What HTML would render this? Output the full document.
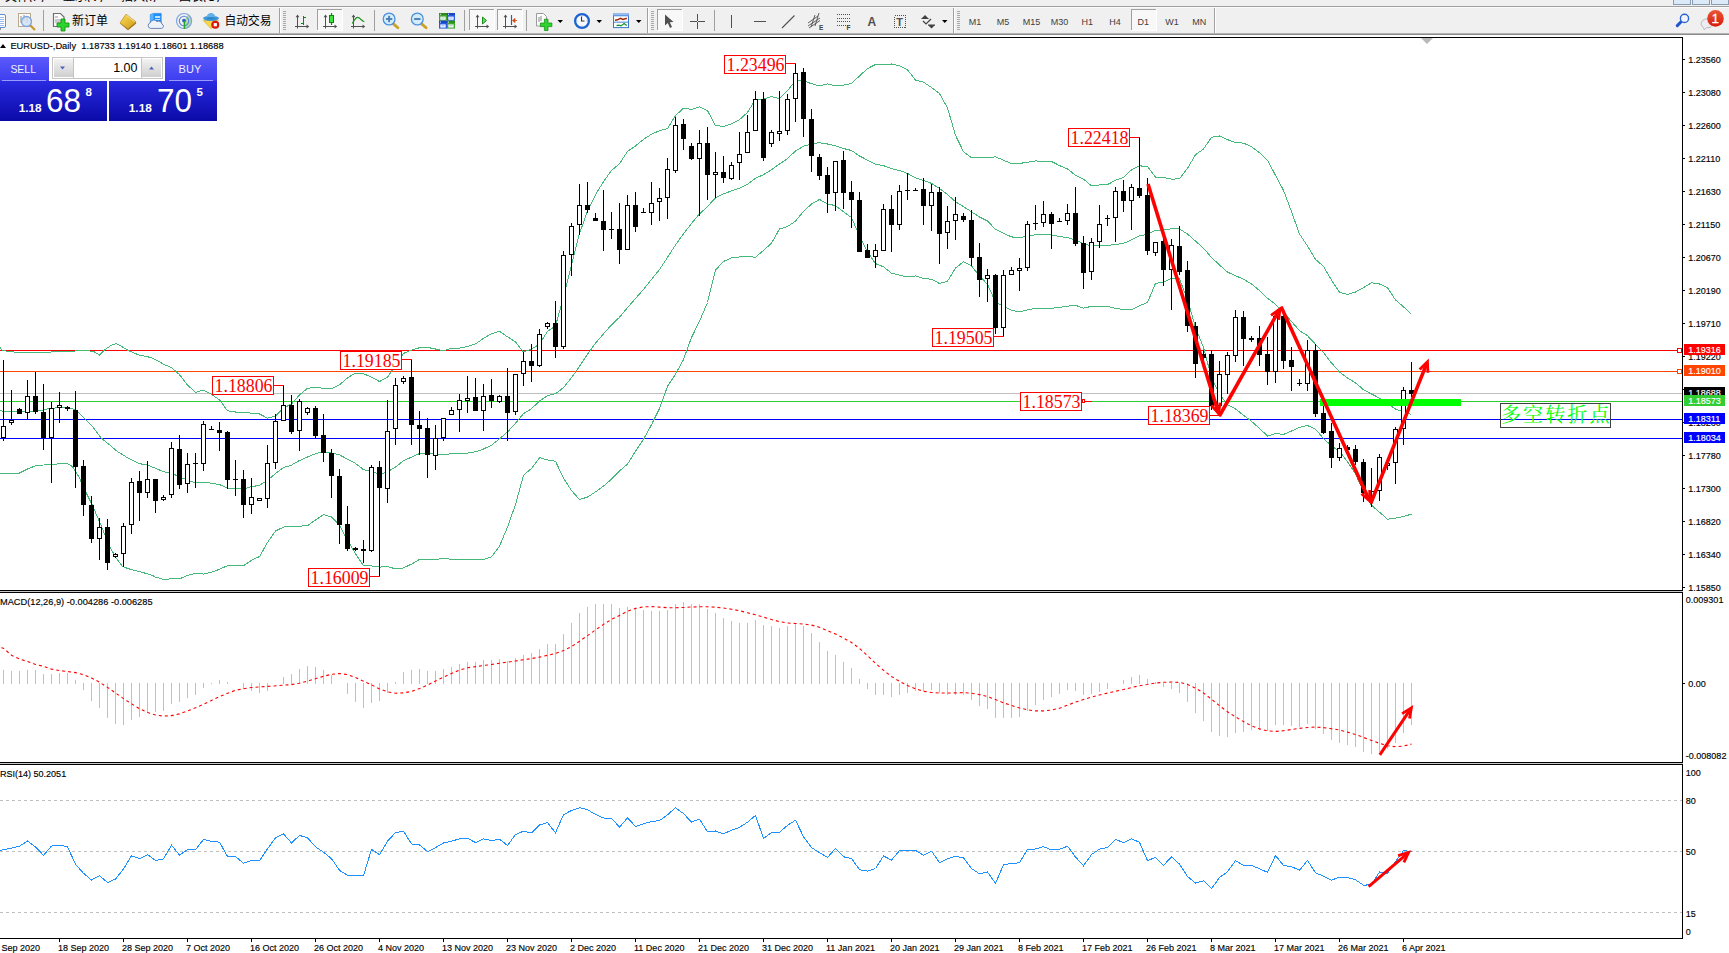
<!DOCTYPE html>
<html><head><meta charset="utf-8"><title>EURUSD Daily</title>
<style>html,body{margin:0;padding:0;background:#fff;overflow:hidden}body{width:1729px;height:953px;position:relative}</style>
</head><body>
<svg width="1729" height="953" viewBox="0 0 1729 953" style="position:absolute;left:0;top:0">
<defs><linearGradient id="gSellT" x1="0" y1="0" x2="0" y2="1"><stop offset="0" stop-color="#5a5afc"/><stop offset="1" stop-color="#3c3cee"/></linearGradient><linearGradient id="gSellB" x1="0" y1="0" x2="0" y2="1"><stop offset="0" stop-color="#2a2ae0"/><stop offset="1" stop-color="#0a0aa8"/></linearGradient><linearGradient id="gBtn" x1="0" y1="0" x2="0" y2="1"><stop offset="0" stop-color="#f2f2f2"/><stop offset="1" stop-color="#cfcfcf"/></linearGradient></defs>
<rect width="1729" height="953" fill="#fff"/>
<g id="toolbar">
<rect x="0" y="0" width="1729" height="35" fill="#f0f0f0"/>
<clipPath id="mclip"><rect x="0" y="0" width="1729" height="2"/></clipPath>
<g clip-path="url(#mclip)" font-family="'Liberation Sans','Noto Sans CJK SC',sans-serif" font-size="12" fill="#000">
<text x="5" y="0.9">文件(F)</text>
<text x="63" y="0.9">显示(V)</text>
<text x="121" y="0.9">插入(I)</text>
<text x="179" y="0.9">图表(C)</text>
</g>
<rect x="1673.5" y="-3.5" width="17" height="8" fill="#dce9f7" stroke="#8a9cb2"/>
<rect x="1692.5" y="-3.5" width="17" height="8" fill="#dce9f7" stroke="#8a9cb2"/>
<rect x="1711.5" y="-3.5" width="17" height="8" fill="#dce9f7" stroke="#8a9cb2"/>
<g shape-rendering="crispEdges">
<rect x="0" y="6" width="1729" height="1" fill="#a0a0a0"/><rect x="0" y="7" width="1729" height="1" fill="#fbfbfb"/>
<rect x="0" y="33" width="1729" height="1" fill="#b4b4b4"/><rect x="0" y="34" width="1729" height="1" fill="#8c8c8c"/><rect x="0" y="35" width="1729" height="2" fill="#fff"/>
<rect x="43" y="10" width="1" height="21" fill="#a0a0a0"/>
<rect x="374" y="10" width="1" height="21" fill="#a0a0a0"/>
<rect x="464" y="10" width="1" height="21" fill="#a0a0a0"/>
<rect x="526" y="10" width="1" height="21" fill="#a0a0a0"/>
<rect x="714" y="10" width="1" height="21" fill="#a0a0a0"/>
<rect x="279" y="8" width="1" height="25" fill="#a0a0a0"/><rect x="280" y="8" width="1" height="25" fill="#fff"/>
<rect x="647" y="8" width="1" height="25" fill="#a0a0a0"/><rect x="648" y="8" width="1" height="25" fill="#fff"/>
<rect x="953" y="8" width="1" height="25" fill="#a0a0a0"/><rect x="954" y="8" width="1" height="25" fill="#fff"/>
<rect x="1214" y="8" width="1" height="25" fill="#a0a0a0"/><rect x="1215" y="8" width="1" height="25" fill="#fff"/>
<rect x="283" y="11" width="3" height="1" fill="#a8a8a8"/>
<rect x="283" y="13" width="3" height="1" fill="#a8a8a8"/>
<rect x="283" y="15" width="3" height="1" fill="#a8a8a8"/>
<rect x="283" y="17" width="3" height="1" fill="#a8a8a8"/>
<rect x="283" y="19" width="3" height="1" fill="#a8a8a8"/>
<rect x="283" y="21" width="3" height="1" fill="#a8a8a8"/>
<rect x="283" y="23" width="3" height="1" fill="#a8a8a8"/>
<rect x="283" y="25" width="3" height="1" fill="#a8a8a8"/>
<rect x="283" y="27" width="3" height="1" fill="#a8a8a8"/>
<rect x="283" y="29" width="3" height="1" fill="#a8a8a8"/>
<rect x="651" y="11" width="3" height="1" fill="#a8a8a8"/>
<rect x="651" y="13" width="3" height="1" fill="#a8a8a8"/>
<rect x="651" y="15" width="3" height="1" fill="#a8a8a8"/>
<rect x="651" y="17" width="3" height="1" fill="#a8a8a8"/>
<rect x="651" y="19" width="3" height="1" fill="#a8a8a8"/>
<rect x="651" y="21" width="3" height="1" fill="#a8a8a8"/>
<rect x="651" y="23" width="3" height="1" fill="#a8a8a8"/>
<rect x="651" y="25" width="3" height="1" fill="#a8a8a8"/>
<rect x="651" y="27" width="3" height="1" fill="#a8a8a8"/>
<rect x="651" y="29" width="3" height="1" fill="#a8a8a8"/>
<rect x="957" y="11" width="3" height="1" fill="#a8a8a8"/>
<rect x="957" y="13" width="3" height="1" fill="#a8a8a8"/>
<rect x="957" y="15" width="3" height="1" fill="#a8a8a8"/>
<rect x="957" y="17" width="3" height="1" fill="#a8a8a8"/>
<rect x="957" y="19" width="3" height="1" fill="#a8a8a8"/>
<rect x="957" y="21" width="3" height="1" fill="#a8a8a8"/>
<rect x="957" y="23" width="3" height="1" fill="#a8a8a8"/>
<rect x="957" y="25" width="3" height="1" fill="#a8a8a8"/>
<rect x="957" y="27" width="3" height="1" fill="#a8a8a8"/>
<rect x="957" y="29" width="3" height="1" fill="#a8a8a8"/>
<rect x="317" y="9" width="26" height="22" fill="#f8f8f8"/><rect x="317" y="9" width="26" height="1" fill="#a0a0a0"/><rect x="317" y="9" width="1" height="22" fill="#a0a0a0"/><rect x="317" y="30" width="26" height="1" fill="#fff"/><rect x="342" y="9" width="1" height="22" fill="#fff"/>
<rect x="469" y="9" width="26" height="22" fill="#f8f8f8"/><rect x="469" y="9" width="26" height="1" fill="#a0a0a0"/><rect x="469" y="9" width="1" height="22" fill="#a0a0a0"/><rect x="469" y="30" width="26" height="1" fill="#fff"/><rect x="494" y="9" width="1" height="22" fill="#fff"/>
<rect x="497" y="9" width="26" height="22" fill="#f8f8f8"/><rect x="497" y="9" width="26" height="1" fill="#a0a0a0"/><rect x="497" y="9" width="1" height="22" fill="#a0a0a0"/><rect x="497" y="30" width="26" height="1" fill="#fff"/><rect x="522" y="9" width="1" height="22" fill="#fff"/>
<rect x="657" y="9" width="26" height="22" fill="#f8f8f8"/><rect x="657" y="9" width="26" height="1" fill="#a0a0a0"/><rect x="657" y="9" width="1" height="22" fill="#a0a0a0"/><rect x="657" y="30" width="26" height="1" fill="#fff"/><rect x="682" y="9" width="1" height="22" fill="#fff"/>
<rect x="1131" y="9" width="26" height="22" fill="#f8f8f8"/><rect x="1131" y="9" width="26" height="1" fill="#a0a0a0"/><rect x="1131" y="9" width="1" height="22" fill="#a0a0a0"/><rect x="1131" y="30" width="26" height="1" fill="#fff"/><rect x="1156" y="9" width="1" height="22" fill="#fff"/>
</g>
<rect x="-4" y="14.5" width="9.5" height="13" rx="1.5" fill="#fff" stroke="#5b8fd6"/>
<rect x="0" y="17" width="4" height="1" fill="#9dbdf0"/>
<rect x="0" y="19" width="4" height="1" fill="#9dbdf0"/>
<rect x="0" y="21" width="4" height="1" fill="#9dbdf0"/>
<rect x="0" y="23" width="4" height="1" fill="#9dbdf0"/>
<rect x="0" y="25" width="4" height="1" fill="#9dbdf0"/>
<path d="M0 28 l0 2 l-2 0" stroke="#333" fill="none"/>
<rect x="18.5" y="13.5" width="12" height="13" fill="#fdfdfd" stroke="#b9a98c"/>
<path d="M21 16v7M24 15v6M27 16v7" stroke="#888" fill="none"/>
<line x1="30" y1="25" x2="35" y2="30" stroke="#c8962a" stroke-width="2.2"/>
<circle cx="26.5" cy="21.5" r="5" fill="#cfe0f5" fill-opacity="0.8" stroke="#7fa8de" stroke-width="1.3"/>
<path d="M53.5 13.5h7l3.5 3.5v9.5h-10.5z" fill="#fcfcfc" stroke="#707070" stroke-width="1.2"/>
<path d="M55 17h3M55 20h6M55 22h6" stroke="#999" fill="none"/>
<path d="M61 19h4v4h4v4h-4v4h-4v-4h-4v-4h4z" fill="#2ed42e" stroke="#0a8a0a" stroke-width="0.8"/>
<text x="72" y="24.5" font-family="'Liberation Sans','Noto Sans CJK SC',sans-serif" font-size="12" fill="#000" textLength="36" lengthAdjust="spacingAndGlyphs">新订单</text>
<linearGradient id="gGold" x1="0" y1="0" x2="1" y2="1"><stop offset="0" stop-color="#fbe060"/><stop offset="1" stop-color="#cf9612"/></linearGradient>
<path d="M120 23.6L128 30.2L136.2 23.4L136 22L128 28.7L120 22.9z" fill="#9a6a10"/><path d="M126 14.2L136 21.9L128 28.7L120 22.9z" fill="url(#gGold)" stroke="#b8841a" stroke-width="0.7"/><path d="M126.3 15.2L134.8 21.8" stroke="#fdf0a0" stroke-width="0.8" fill="none"/>
<path d="M150.3 14.6l3.2-1.2h7.7v9.6h-10.9z" fill="#2090f8" stroke="#1878e0" stroke-width="0.6"/><path d="M150.3 14.6l3.2-1.2v9.6h-3.2z" fill="#58b4ff"/><rect x="155" y="16.2" width="5.2" height="1.6" fill="#e8f4ff"/><rect x="155" y="19" width="5.2" height="1" fill="#bcdcff"/>
<path d="M150.5 28.4a2.9 2.9 0 0 1 -0.3 -5.6a3.9 3.9 0 0 1 6.8 -1.3a3.4 3.4 0 0 1 4.9 2.5a2.3 2.3 0 0 1 -0.3 4.4z" fill="#eef3fa" stroke="#5a78b4" stroke-width="0.9"/>
<path d="M184 21L184 29.1A8.1 8.1 0 0 0 188.6 14.3z" fill="#4caf50" fill-opacity="0.38"/>
<circle cx="184" cy="21" r="7.5" fill="none" stroke="#7aa2e2" stroke-width="1.1"/><circle cx="184" cy="21" r="4.7" fill="none" stroke="#5d8ad8" stroke-width="1.1"/><circle cx="184" cy="20.6" r="1.9" fill="#2c5fd0"/>
<path d="M184.4 21v7.9" fill="none" stroke="#22a822" stroke-width="1.5"/>
<path d="M203.3 20.6L218.2 20.3L211.1 28.7z" fill="#f6d848" stroke="#cfa51c" stroke-width="0.6"/>
<ellipse cx="211" cy="18.3" rx="7.9" ry="2.6" fill="#3c98d8"/><path d="M206.4 18a4.6 4.9 0 0 1 9.2 0z" fill="#62b0e8"/><ellipse cx="211" cy="18.2" rx="4.6" ry="1.2" fill="#2f86c8"/>
<circle cx="215.3" cy="24.7" r="4" fill="#d81808"/><rect x="213.7" y="23.1" width="3.2" height="3.2" fill="#fff"/>
<text x="224.5" y="24.5" font-family="'Liberation Sans','Noto Sans CJK SC',sans-serif" font-size="12" fill="#000" textLength="47" lengthAdjust="spacingAndGlyphs">自动交易</text>
<path d="M297.5 15.5v13M295 26.5h13" stroke="#505050" fill="none"/><path d="M297.5 14.6l-1.9 2.6h3.8zM309.2 26.5l-2.6-1.9v3.8z" fill="#505050"/>
<g shape-rendering="crispEdges" fill="#0a8a0a"><rect x="303" y="16" width="1.4" height="8.6"/><rect x="303" y="17" width="3.4" height="1.2"/><rect x="300.6" y="23" width="3" height="1.2"/></g>
<path d="M325.5 15.5v13M323 26.5h13" stroke="#505050" fill="none"/><path d="M325.5 14.6l-1.9 2.6h3.8zM337.2 26.5l-2.6-1.9v3.8z" fill="#505050"/>
<path d="M331.5 13v12" stroke="#0a8a0a" stroke-width="1.2"/><rect x="329.5" y="15.5" width="4" height="7" fill="#3fe03f" stroke="#0a8a0a"/>
<path d="M353.5 15.5v13M351 26.5h13" stroke="#505050" fill="none"/><path d="M353.5 14.6l-1.9 2.6h3.8zM365.2 26.5l-2.6-1.9v3.8z" fill="#505050"/>
<path d="M352.3 23.6c3-6 5-7.2 7-5.6s3 3 5 3.8" stroke="#1a8f1a" stroke-width="1.2" fill="none"/>
<line x1="393.1" y1="23.6" x2="397.9" y2="27.8" stroke="#c9a227" stroke-width="2.8" stroke-linecap="round"/>
<circle cx="389.1" cy="19" r="5.9" fill="#d4ecf8" stroke="#4a90e0" stroke-width="1.3"/>
<path d="M385.9 19h6.4" stroke="#4a80b4" stroke-width="1.9"/>
<path d="M389.1 15.8v6.4" stroke="#4a80b4" stroke-width="1.9"/>
<line x1="421.3" y1="23.6" x2="426.1" y2="27.8" stroke="#c9a227" stroke-width="2.8" stroke-linecap="round"/>
<circle cx="417.3" cy="19" r="5.9" fill="#d4ecf8" stroke="#4a90e0" stroke-width="1.3"/>
<path d="M414.1 19h6.4" stroke="#4a80b4" stroke-width="1.9"/>
<rect x="439" y="13" width="8" height="7.8" fill="#3fa52c"/><rect x="439" y="13" width="8" height="2" fill="#2f8a1e"/><rect x="440.3" y="16.6" width="5.4" height="3.2" fill="#f4f6ff"/><rect x="441.5" y="17.5" width="3" height="0.9" fill="#3fa52c" fill-opacity="0.45"/><rect x="440" y="13.8" width="1" height="1" fill="#eef"/>
<rect x="447" y="13" width="8" height="7.8" fill="#2a5ce0"/><rect x="447" y="13" width="8" height="2" fill="#1a44c0"/><rect x="448.3" y="16.6" width="5.4" height="3.2" fill="#f4f6ff"/><rect x="449.5" y="17.5" width="3" height="0.9" fill="#2a5ce0" fill-opacity="0.45"/><rect x="448" y="13.8" width="1" height="1" fill="#eef"/>
<rect x="439" y="20.8" width="8" height="7.8" fill="#2a5ce0"/><rect x="439" y="20.8" width="8" height="2" fill="#1a44c0"/><rect x="440.3" y="24.400000000000002" width="5.4" height="3.2" fill="#f4f6ff"/><rect x="441.5" y="25.3" width="3" height="0.9" fill="#2a5ce0" fill-opacity="0.45"/><rect x="440" y="21.6" width="1" height="1" fill="#eef"/>
<rect x="447" y="20.8" width="8" height="7.8" fill="#3fa52c"/><rect x="447" y="20.8" width="8" height="2" fill="#2f8a1e"/><rect x="448.3" y="24.400000000000002" width="5.4" height="3.2" fill="#f4f6ff"/><rect x="449.5" y="25.3" width="3" height="0.9" fill="#3fa52c" fill-opacity="0.45"/><rect x="448" y="21.6" width="1" height="1" fill="#eef"/>
<path d="M477.5 15.5v13M475 26.5h13" stroke="#505050" fill="none"/><path d="M477.5 14.6l-1.9 2.6h3.8zM489.2 26.5l-2.6-1.9v3.8z" fill="#505050"/>
<path d="M482.5 17l0 7 4-3.5z" fill="#6fd46f" stroke="#1a8f1a"/>
<path d="M505.5 15.5v13M503 26.5h13" stroke="#505050" fill="none"/><path d="M505.5 14.6l-1.9 2.6h3.8zM517.2 26.5l-2.6-1.9v3.8z" fill="#505050"/>
<path d="M511.5 15v10" stroke="#1e68b8" stroke-width="1.2"/><path d="M517 20.5h-4M515 18.5l-2.5 2 2.5 2z" stroke="#d84a10" fill="#d84a10" stroke-width="0.8"/>
<path d="M536.5 13.5h7l3 3v9.5h-10z" fill="#fcfcfc" stroke="#9a9a9a"/><path d="M539 17v5M541 16v5" stroke="#888"/>
<path d="M544.4 19.2h3.6v3.8h3.9v3.6h-3.9v3.9h-3.6v-3.9h-4v-3.6h4z" fill="#2ed42e" stroke="#0a8a0a" stroke-width="0.7"/>
<path d="M557.5 20h5.5l-2.75 3z" fill="#000"/>
<circle cx="582" cy="21" r="6.9" fill="#f6f9fd" stroke="#1c64d2" stroke-width="2.3"/><path d="M581.5 16.6v4.4h3" stroke="#333" stroke-width="1.1" fill="none"/><path d="M582 15.6v0.8M582 25.6v0.8M576.6 21h0.8M586.6 21h0.8" stroke="#889" stroke-width="0.8"/>
<path d="M596.5 20h5.5l-2.75 3z" fill="#000"/>
<rect x="613.5" y="14.2" width="15" height="13.4" fill="#fff" stroke="#3a78d0"/><rect x="613" y="13.7" width="16" height="2.6" fill="#5a94e4"/><rect x="613.6" y="14.2" width="14.8" height="0.9" fill="#a8c8f4"/><rect x="614" y="21.7" width="14" height="0.9" fill="#3a78d0"/>
<path d="M615 20.2L617.6 19.8L620.3 18.3L623 19.5L626.8 18.3" stroke="#a82408" stroke-width="1.5" fill="none"/><path d="M616.5 25.6L618.8 25.2L621 25.9L624.1 23.6L626.8 25.6" stroke="#12962a" stroke-width="1.3" fill="none"/>
<path d="M636 20h5.5l-2.75 3z" fill="#000"/>
<path d="M665 14.5l0 11 2.8-2.5 2.2 5 2-1-2.2-4.8 3.7-0.2z" fill="#505050"/>
<path d="M697.5 14v15M690 21.5h15" stroke="#505050" fill="none"/><rect x="697" y="21" width="1" height="1" fill="#f0f0f0"/>
<path d="M731.5 15v13" stroke="#505050"/><path d="M754 21.5h12" stroke="#505050"/>
<path d="M782 28l12.5-12.5" stroke="#505050" stroke-width="1.1"/>
<path d="M808 23l10-7M808 26l12-8M809 28l11-7.5M811 27l4-12M815 26l4-13" stroke="#505050" stroke-width="0.9" fill="none"/>
<text x="819" y="30" font-family="'Liberation Sans',sans-serif" font-size="6.5" font-weight="bold" fill="#404040">E</text>
<path d="M837 14.5h13" stroke="#505050" stroke-dasharray="1 1"/>
<path d="M837 18.5h13" stroke="#505050" stroke-dasharray="1 1"/>
<path d="M837 21.5h13" stroke="#505050" stroke-dasharray="1 1"/>
<path d="M837 25.5h13" stroke="#505050" stroke-dasharray="1 1"/>
<text x="846.5" y="30" font-family="'Liberation Sans',sans-serif" font-size="6.5" font-weight="bold" fill="#404040">F</text>
<text x="867.5" y="26" font-family="'Liberation Sans',sans-serif" font-size="12" font-weight="bold" fill="#505050">A</text>
<rect x="894.5" y="15.5" width="11" height="12" fill="none" stroke="#505050" stroke-dasharray="1 1" shape-rendering="crispEdges"/><text x="896.2" y="26" font-family="'Liberation Sans',sans-serif" font-size="11" font-weight="bold" fill="#505050">T</text>
<path d="M921.5 18.5l3.5-3.5 3.5 3.5z M928 25l3.5 3.5 3.5-3.5z" fill="#404040"/><path d="M923 21l3 3 5-5" stroke="#404040" fill="none" stroke-width="1.2"/><path d="M921.5 18.5h7M928 25h7" stroke="#404040"/>
<path d="M942 20h5.5l-2.75 3z" fill="#000"/>
<text x="974.9" y="25.2" text-anchor="middle" font-family="'Liberation Sans',sans-serif" font-size="9" fill="#404040">M1</text>
<text x="1002.9" y="25.2" text-anchor="middle" font-family="'Liberation Sans',sans-serif" font-size="9" fill="#404040">M5</text>
<text x="1031.4" y="25.2" text-anchor="middle" font-family="'Liberation Sans',sans-serif" font-size="9" fill="#404040">M15</text>
<text x="1059.6" y="25.2" text-anchor="middle" font-family="'Liberation Sans',sans-serif" font-size="9" fill="#404040">M30</text>
<text x="1087.3" y="25.2" text-anchor="middle" font-family="'Liberation Sans',sans-serif" font-size="9" fill="#404040">H1</text>
<text x="1114.9" y="25.2" text-anchor="middle" font-family="'Liberation Sans',sans-serif" font-size="9" fill="#404040">H4</text>
<text x="1143.3" y="25.2" text-anchor="middle" font-family="'Liberation Sans',sans-serif" font-size="9" fill="#404040">D1</text>
<text x="1172" y="25.2" text-anchor="middle" font-family="'Liberation Sans',sans-serif" font-size="9" fill="#404040">W1</text>
<text x="1199.2" y="25.2" text-anchor="middle" font-family="'Liberation Sans',sans-serif" font-size="9" fill="#404040">MN</text>
<line x1="1677.3" y1="25.6" x2="1681.6" y2="21.2" stroke="#2455cc" stroke-width="3" stroke-linecap="round"/><circle cx="1684.5" cy="18.4" r="4.1" fill="#f2f4fa" stroke="#2a62d6" stroke-width="1.4"/>
<path d="M1703.5 27.6a5.6 4.8 0 1 1 6.5 0l-3.5 0l-2.2 2.3z" fill="#ececf2" stroke="#b4b4b4" stroke-width="0.9"/>
<linearGradient id="gRed" x1="0" y1="0" x2="0" y2="1"><stop offset="0" stop-color="#ea5636"/><stop offset="1" stop-color="#d61c0c"/></linearGradient>
<circle cx="1715.5" cy="18.4" r="8.3" fill="url(#gRed)"/><text x="1715.3" y="22.9" text-anchor="middle" font-family="'Liberation Sans',sans-serif" font-size="12.8" fill="#fff" stroke="#fff" stroke-width="0.3">1</text><rect x="1712.2" y="22" width="5" height="0.9" fill="#fff"/>
</g>
<g shape-rendering="crispEdges">
<rect x="0" y="37" width="1683" height="1" fill="#000"/>
<rect x="1682" y="37" width="1" height="902" fill="#000"/>
<rect x="0" y="590" width="1683" height="1" fill="#000"/>
<rect x="0" y="592" width="1683" height="1" fill="#000"/>
<rect x="0" y="762" width="1683" height="1" fill="#000"/>
<rect x="0" y="764" width="1683" height="1" fill="#000"/>
<rect x="0" y="591" width="1683" height="1" fill="#c8c8c8"/>
<rect x="0" y="763" width="1683" height="1" fill="#c8c8c8"/>
<rect x="0" y="938" width="1683" height="1" fill="#000"/>
</g>
<g shape-rendering="crispEdges">
<rect x="0" y="350" width="1682" height="1" fill="#ff0000"/>
<rect x="0" y="371" width="1682" height="1" fill="#ff4500"/>
<rect x="0" y="393" width="1682" height="1" fill="#c0c0c0"/>
<rect x="0" y="401" width="1682" height="1" fill="#32cd32"/>
<rect x="0" y="419" width="1682" height="1" fill="#0000ff"/>
<rect x="0" y="438" width="1682" height="1" fill="#0000ff"/>
</g>
<g fill="none" stroke="#46b87a" stroke-width="1" shape-rendering="crispEdges">
<polyline points="0.0,347.7 2.7,350.5 16.4,352.4 40.9,352.4 68.2,351.3 87.3,350.5 94.1,351.8 99.5,355.1 105.0,349.6 111.8,345.0 115.9,343.6 120.0,345.5 128.2,350.5 139.1,355.1 150.0,357.3 155.5,359.5 163.5,364.2 171.5,367.6 179.5,374.7 187.5,385.0 195.5,392.4 203.5,390.1 211.5,394.4 219.5,399.9 227.5,410.7 235.5,412.0 243.5,412.0 251.5,413.3 259.5,414.0 267.5,418.1 275.5,416.2 283.5,408.1 291.5,404.0 299.5,394.9 307.5,388.2 315.5,387.5 323.5,388.3 331.5,388.8 339.5,384.8 347.5,377.9 355.5,373.1 363.5,373.7 371.5,377.2 379.5,381.5 387.5,377.2 395.5,365.3 403.5,353.4 411.5,350.1 419.5,347.7 427.5,347.4 435.5,349.0 443.5,350.7 451.5,348.2 459.5,348.1 467.5,346.5 475.5,343.9 483.5,338.4 491.5,333.6 499.5,331.4 507.5,336.8 515.5,341.8 523.5,352.2 531.5,348.9 539.5,344.3 547.5,331.3 555.5,326.0 563.5,297.0 571.5,264.8 579.5,233.4 587.5,211.2 595.5,194.7 603.5,181.6 611.5,170.4 619.5,163.8 627.5,151.4 635.5,145.9 643.5,139.4 651.5,134.2 659.5,130.7 667.5,128.5 675.5,115.6 683.5,108.2 691.5,109.4 699.5,106.7 707.5,110.6 715.5,125.6 723.5,126.4 731.5,123.9 739.5,119.7 747.5,112.4 755.5,99.5 763.5,99.0 771.5,96.5 779.5,98.7 787.5,90.6 795.5,80.6 803.5,80.9 811.5,83.7 819.5,85.9 827.5,83.9 835.5,85.9 843.5,85.2 851.5,83.5 859.5,75.9 867.5,68.6 875.5,64.5 883.5,64.3 891.5,64.0 899.5,65.7 907.5,69.8 915.5,80.0 923.5,82.1 931.5,87.5 939.5,93.5 947.5,108.0 955.5,135.3 963.5,151.7 971.5,157.6 979.5,157.9 987.5,157.8 995.5,156.8 1003.5,160.2 1011.5,163.7 1019.5,163.5 1027.5,162.2 1035.5,160.9 1043.5,161.6 1051.5,161.5 1059.5,165.6 1067.5,168.9 1075.5,175.3 1083.5,179.1 1091.5,185.9 1099.5,184.9 1107.5,184.6 1115.5,180.3 1123.5,177.4 1131.5,169.9 1139.5,165.8 1147.5,166.6 1155.5,177.2 1163.5,177.6 1171.5,179.2 1179.5,178.8 1187.5,168.4 1195.5,154.7 1203.5,149.0 1211.5,137.3 1219.5,136.0 1227.5,139.6 1235.5,142.6 1243.5,143.1 1251.5,146.7 1259.5,152.8 1267.5,160.2 1275.5,175.3 1283.5,190.4 1291.5,211.7 1299.5,234.1 1307.5,245.9 1315.5,259.4 1323.5,266.3 1331.5,280.2 1339.5,292.3 1347.5,294.5 1355.5,292.0 1363.5,287.7 1371.5,282.7 1379.5,284.0 1387.5,287.8 1395.5,299.9 1403.5,306.8 1411.5,314.5"/>
<polyline points="0.0,410.5 5.5,411.8 16.4,411.8 27.3,411.3 40.9,410.7 49.1,408.5 58.6,407.7 66.8,407.7 73.6,409.1 79.1,413.2 84.5,418.6 92.7,426.8 100.9,437.7 109.1,444.5 117.3,451.4 128.2,458.2 139.1,463.6 147.3,465.0 155.5,468.3 163.5,471.8 171.5,473.2 179.5,476.8 187.5,480.2 195.5,482.8 203.5,482.1 211.5,483.2 219.5,484.6 227.5,488.2 235.5,488.9 243.5,488.9 251.5,486.7 259.5,485.3 267.5,480.3 275.5,473.6 283.5,467.6 291.5,465.1 299.5,460.5 307.5,457.0 315.5,453.7 323.5,451.5 331.5,452.9 339.5,454.9 347.5,459.2 355.5,463.4 363.5,469.7 371.5,471.6 379.5,474.3 387.5,471.8 395.5,467.1 403.5,460.7 411.5,457.1 419.5,453.6 427.5,453.2 435.5,454.1 443.5,454.7 451.5,453.6 459.5,453.6 467.5,453.1 475.5,451.8 483.5,449.0 491.5,445.2 499.5,438.8 507.5,432.0 515.5,423.2 523.5,413.7 531.5,408.7 539.5,401.0 547.5,395.6 555.5,393.7 563.5,387.6 571.5,377.6 579.5,366.4 587.5,354.1 595.5,343.3 603.5,333.8 611.5,324.8 619.5,317.3 627.5,307.7 635.5,298.5 643.5,289.4 651.5,279.4 659.5,269.6 667.5,257.4 675.5,244.9 683.5,233.8 691.5,223.5 699.5,213.9 707.5,206.5 715.5,197.8 723.5,193.9 731.5,190.9 739.5,188.3 747.5,184.4 755.5,178.3 763.5,174.7 771.5,169.8 779.5,163.9 787.5,158.6 795.5,150.9 803.5,146.2 811.5,143.9 819.5,142.7 827.5,144.0 835.5,145.7 843.5,148.5 851.5,150.5 859.5,156.0 867.5,160.1 875.5,164.1 883.5,165.6 891.5,168.6 899.5,170.5 907.5,173.4 915.5,177.9 923.5,180.4 931.5,183.4 939.5,188.5 947.5,194.6 955.5,201.7 963.5,206.7 971.5,211.8 979.5,217.0 987.5,221.0 995.5,229.4 1003.5,233.4 1011.5,236.9 1019.5,237.8 1027.5,236.1 1035.5,234.7 1043.5,235.0 1051.5,234.9 1059.5,236.5 1067.5,237.6 1075.5,240.3 1083.5,243.6 1091.5,246.1 1099.5,245.6 1107.5,245.5 1115.5,244.4 1123.5,243.4 1131.5,239.9 1139.5,235.7 1147.5,234.5 1155.5,230.2 1163.5,230.0 1171.5,228.8 1179.5,228.9 1187.5,234.0 1195.5,241.1 1203.5,248.3 1211.5,257.4 1219.5,265.0 1227.5,272.1 1235.5,275.8 1243.5,279.1 1251.5,284.0 1259.5,290.5 1267.5,298.2 1275.5,304.4 1283.5,312.4 1291.5,321.4 1299.5,330.7 1307.5,335.7 1315.5,344.3 1323.5,352.4 1331.5,363.0 1339.5,371.9 1347.5,378.0 1355.5,382.9 1363.5,389.7 1371.5,394.0 1379.5,398.1 1387.5,403.5 1395.5,409.1 1403.5,411.6 1411.5,414.4"/>
<polyline points="0.0,473.2 10.9,474.0 19.1,473.2 27.3,469.1 35.5,465.8 43.6,465.0 54.5,464.2 66.8,463.1 72.3,466.4 79.1,477.3 84.5,489.5 92.7,505.9 100.9,525.0 109.1,545.5 115.9,557.7 122.7,566.7 130.9,569.5 141.8,572.2 152.7,575.5 155.5,577.1 163.5,579.4 171.5,578.8 179.5,578.8 187.5,575.5 195.5,573.3 203.5,574.1 211.5,572.1 219.5,569.3 227.5,565.6 235.5,565.8 243.5,565.8 251.5,560.2 259.5,556.6 267.5,542.5 275.5,531.0 283.5,527.1 291.5,526.2 299.5,526.1 307.5,525.8 315.5,519.9 323.5,514.7 331.5,517.0 339.5,525.1 347.5,540.4 355.5,553.8 363.5,565.8 371.5,565.9 379.5,567.1 387.5,566.5 395.5,568.9 403.5,567.9 411.5,564.1 419.5,559.5 427.5,559.1 435.5,559.2 443.5,558.8 451.5,559.1 459.5,559.1 467.5,559.6 475.5,559.7 483.5,559.5 491.5,556.9 499.5,546.1 507.5,527.1 515.5,504.6 523.5,475.3 531.5,468.4 539.5,457.7 547.5,459.9 555.5,461.3 563.5,478.1 571.5,490.5 579.5,499.5 587.5,497.1 595.5,491.9 603.5,486.1 611.5,479.2 619.5,470.9 627.5,464.1 635.5,451.2 643.5,439.4 651.5,424.7 659.5,408.4 667.5,386.3 675.5,374.3 683.5,359.5 691.5,337.5 699.5,321.2 707.5,302.5 715.5,270.0 723.5,261.5 731.5,257.9 739.5,256.9 747.5,256.5 755.5,257.2 763.5,250.4 771.5,243.2 779.5,229.0 787.5,226.5 795.5,221.1 803.5,211.4 811.5,204.0 819.5,199.5 827.5,204.0 835.5,205.6 843.5,211.7 851.5,217.6 859.5,236.0 867.5,251.6 875.5,263.6 883.5,266.8 891.5,273.2 899.5,275.2 907.5,277.0 915.5,275.9 923.5,278.6 931.5,279.2 939.5,283.5 947.5,281.2 955.5,268.1 963.5,261.7 971.5,265.9 979.5,276.0 987.5,284.3 995.5,302.0 1003.5,306.6 1011.5,310.2 1019.5,312.0 1027.5,309.9 1035.5,308.4 1043.5,308.4 1051.5,308.3 1059.5,307.4 1067.5,306.2 1075.5,305.3 1083.5,308.2 1091.5,306.3 1099.5,306.4 1107.5,306.4 1115.5,308.4 1123.5,309.4 1131.5,309.9 1139.5,305.6 1147.5,302.5 1155.5,283.3 1163.5,282.4 1171.5,278.3 1179.5,279.0 1187.5,299.6 1195.5,327.6 1203.5,347.6 1211.5,377.5 1219.5,394.1 1227.5,404.6 1235.5,409.0 1243.5,415.2 1251.5,421.4 1259.5,428.3 1267.5,436.1 1275.5,433.5 1283.5,434.4 1291.5,431.0 1299.5,427.4 1307.5,425.5 1315.5,429.2 1323.5,438.5 1331.5,445.9 1339.5,451.4 1347.5,461.6 1355.5,473.9 1363.5,491.7 1371.5,505.2 1379.5,512.2 1387.5,519.2 1395.5,518.2 1403.5,516.4 1411.5,514.2"/>
</g>
<g shape-rendering="crispEdges">
<rect x="3" y="360" width="1" height="81" fill="#000"/>
<rect x="1" y="426" width="5" height="12" fill="#000"/>
<rect x="2" y="427" width="3" height="10" fill="#fff"/>
<rect x="11" y="390" width="1" height="35" fill="#000"/>
<rect x="9" y="420" width="5" height="3" fill="#000"/>
<rect x="10" y="421" width="3" height="1" fill="#fff"/>
<rect x="19" y="408" width="1" height="6" fill="#000"/>
<rect x="17" y="409" width="5" height="5" fill="#000"/>
<rect x="27" y="380" width="1" height="39" fill="#000"/>
<rect x="25" y="396" width="5" height="17" fill="#000"/>
<rect x="26" y="397" width="3" height="15" fill="#fff"/>
<rect x="35" y="372" width="1" height="42" fill="#000"/>
<rect x="33" y="396" width="5" height="16" fill="#000"/>
<rect x="43" y="384" width="1" height="66" fill="#000"/>
<rect x="41" y="412" width="5" height="26" fill="#000"/>
<rect x="51" y="402" width="1" height="81" fill="#000"/>
<rect x="49" y="408" width="5" height="30" fill="#000"/>
<rect x="50" y="409" width="3" height="28" fill="#fff"/>
<rect x="59" y="392" width="1" height="31" fill="#000"/>
<rect x="57" y="405" width="5" height="3" fill="#000"/>
<rect x="58" y="406" width="3" height="1" fill="#fff"/>
<rect x="67" y="406" width="1" height="5" fill="#000"/>
<rect x="65" y="407" width="5" height="2" fill="#000"/>
<rect x="75" y="391" width="1" height="97" fill="#000"/>
<rect x="73" y="410" width="5" height="57" fill="#000"/>
<rect x="83" y="460" width="1" height="56" fill="#000"/>
<rect x="81" y="466" width="5" height="39" fill="#000"/>
<rect x="91" y="496" width="1" height="47" fill="#000"/>
<rect x="89" y="505" width="5" height="34" fill="#000"/>
<rect x="99" y="518" width="1" height="42" fill="#000"/>
<rect x="97" y="527" width="5" height="12" fill="#000"/>
<rect x="98" y="528" width="3" height="10" fill="#fff"/>
<rect x="107" y="519" width="1" height="51" fill="#000"/>
<rect x="105" y="527" width="5" height="36" fill="#000"/>
<rect x="115" y="553" width="1" height="5" fill="#000"/>
<rect x="113" y="554" width="5" height="3" fill="#000"/>
<rect x="114" y="555" width="3" height="1" fill="#fff"/>
<rect x="123" y="523" width="1" height="44" fill="#000"/>
<rect x="121" y="526" width="5" height="28" fill="#000"/>
<rect x="122" y="527" width="3" height="26" fill="#fff"/>
<rect x="131" y="478" width="1" height="56" fill="#000"/>
<rect x="129" y="482" width="5" height="43" fill="#000"/>
<rect x="130" y="483" width="3" height="41" fill="#fff"/>
<rect x="139" y="471" width="1" height="50" fill="#000"/>
<rect x="137" y="481" width="5" height="12" fill="#000"/>
<rect x="147" y="461" width="1" height="37" fill="#000"/>
<rect x="145" y="479" width="5" height="14" fill="#000"/>
<rect x="146" y="480" width="3" height="12" fill="#fff"/>
<rect x="155" y="479" width="1" height="34" fill="#000"/>
<rect x="153" y="479" width="5" height="22" fill="#000"/>
<rect x="163" y="495" width="1" height="6" fill="#000"/>
<rect x="161" y="497" width="5" height="3" fill="#000"/>
<rect x="162" y="498" width="3" height="1" fill="#fff"/>
<rect x="171" y="442" width="1" height="56" fill="#000"/>
<rect x="169" y="448" width="5" height="47" fill="#000"/>
<rect x="170" y="449" width="3" height="45" fill="#fff"/>
<rect x="179" y="435" width="1" height="54" fill="#000"/>
<rect x="177" y="449" width="5" height="36" fill="#000"/>
<rect x="187" y="453" width="1" height="40" fill="#000"/>
<rect x="185" y="464" width="5" height="20" fill="#000"/>
<rect x="186" y="465" width="3" height="18" fill="#fff"/>
<rect x="195" y="453" width="1" height="35" fill="#000"/>
<rect x="193" y="463" width="5" height="1" fill="#000"/>
<rect x="203" y="421" width="1" height="50" fill="#000"/>
<rect x="201" y="424" width="5" height="40" fill="#000"/>
<rect x="202" y="425" width="3" height="38" fill="#fff"/>
<rect x="211" y="426" width="1" height="4" fill="#000"/>
<rect x="209" y="429" width="5" height="1" fill="#000"/>
<rect x="219" y="422" width="1" height="29" fill="#000"/>
<rect x="217" y="430" width="5" height="3" fill="#000"/>
<rect x="227" y="431" width="1" height="58" fill="#000"/>
<rect x="225" y="432" width="5" height="48" fill="#000"/>
<rect x="235" y="460" width="1" height="36" fill="#000"/>
<rect x="233" y="479" width="5" height="1" fill="#000"/>
<rect x="243" y="470" width="1" height="48" fill="#000"/>
<rect x="241" y="479" width="5" height="26" fill="#000"/>
<rect x="251" y="478" width="1" height="36" fill="#000"/>
<rect x="249" y="497" width="5" height="8" fill="#000"/>
<rect x="250" y="498" width="3" height="6" fill="#fff"/>
<rect x="259" y="498" width="1" height="3" fill="#000"/>
<rect x="257" y="498" width="5" height="3" fill="#000"/>
<rect x="258" y="499" width="3" height="1" fill="#fff"/>
<rect x="267" y="445" width="1" height="63" fill="#000"/>
<rect x="265" y="463" width="5" height="36" fill="#000"/>
<rect x="266" y="464" width="3" height="34" fill="#fff"/>
<rect x="275" y="414" width="1" height="55" fill="#000"/>
<rect x="273" y="421" width="5" height="42" fill="#000"/>
<rect x="274" y="422" width="3" height="40" fill="#fff"/>
<rect x="283" y="385" width="1" height="36" fill="#000"/>
<rect x="281" y="405" width="5" height="16" fill="#000"/>
<rect x="282" y="406" width="3" height="14" fill="#fff"/>
<rect x="291" y="395" width="1" height="39" fill="#000"/>
<rect x="289" y="405" width="5" height="27" fill="#000"/>
<rect x="299" y="399" width="1" height="52" fill="#000"/>
<rect x="297" y="401" width="5" height="30" fill="#000"/>
<rect x="298" y="402" width="3" height="28" fill="#fff"/>
<rect x="307" y="407" width="1" height="8" fill="#000"/>
<rect x="305" y="408" width="5" height="5" fill="#000"/>
<rect x="306" y="409" width="3" height="3" fill="#fff"/>
<rect x="315" y="406" width="1" height="32" fill="#000"/>
<rect x="313" y="408" width="5" height="28" fill="#000"/>
<rect x="323" y="414" width="1" height="48" fill="#000"/>
<rect x="321" y="435" width="5" height="18" fill="#000"/>
<rect x="331" y="449" width="1" height="49" fill="#000"/>
<rect x="329" y="453" width="5" height="23" fill="#000"/>
<rect x="339" y="469" width="1" height="75" fill="#000"/>
<rect x="337" y="476" width="5" height="49" fill="#000"/>
<rect x="347" y="506" width="1" height="45" fill="#000"/>
<rect x="345" y="524" width="5" height="25" fill="#000"/>
<rect x="355" y="547" width="1" height="4" fill="#000"/>
<rect x="353" y="548" width="5" height="2" fill="#000"/>
<rect x="363" y="540" width="1" height="23" fill="#000"/>
<rect x="361" y="549" width="5" height="2" fill="#000"/>
<rect x="371" y="465" width="1" height="87" fill="#000"/>
<rect x="369" y="467" width="5" height="84" fill="#000"/>
<rect x="370" y="468" width="3" height="82" fill="#fff"/>
<rect x="379" y="461" width="1" height="116" fill="#000"/>
<rect x="377" y="467" width="5" height="21" fill="#000"/>
<rect x="387" y="400" width="1" height="103" fill="#000"/>
<rect x="385" y="431" width="5" height="58" fill="#000"/>
<rect x="386" y="432" width="3" height="56" fill="#fff"/>
<rect x="395" y="378" width="1" height="67" fill="#000"/>
<rect x="393" y="385" width="5" height="44" fill="#000"/>
<rect x="394" y="386" width="3" height="42" fill="#fff"/>
<rect x="403" y="376" width="1" height="8" fill="#000"/>
<rect x="401" y="378" width="5" height="4" fill="#000"/>
<rect x="402" y="379" width="3" height="2" fill="#fff"/>
<rect x="411" y="359" width="1" height="86" fill="#000"/>
<rect x="409" y="377" width="5" height="48" fill="#000"/>
<rect x="419" y="411" width="1" height="44" fill="#000"/>
<rect x="417" y="425" width="5" height="4" fill="#000"/>
<rect x="427" y="418" width="1" height="60" fill="#000"/>
<rect x="425" y="428" width="5" height="27" fill="#000"/>
<rect x="435" y="425" width="1" height="45" fill="#000"/>
<rect x="433" y="438" width="5" height="18" fill="#000"/>
<rect x="434" y="439" width="3" height="16" fill="#fff"/>
<rect x="443" y="418" width="1" height="23" fill="#000"/>
<rect x="441" y="418" width="5" height="20" fill="#000"/>
<rect x="442" y="419" width="3" height="18" fill="#fff"/>
<rect x="451" y="407" width="1" height="8" fill="#000"/>
<rect x="449" y="410" width="5" height="5" fill="#000"/>
<rect x="450" y="411" width="3" height="3" fill="#fff"/>
<rect x="459" y="394" width="1" height="38" fill="#000"/>
<rect x="457" y="400" width="5" height="10" fill="#000"/>
<rect x="458" y="401" width="3" height="8" fill="#fff"/>
<rect x="467" y="376" width="1" height="37" fill="#000"/>
<rect x="465" y="398" width="5" height="3" fill="#000"/>
<rect x="466" y="399" width="3" height="1" fill="#fff"/>
<rect x="475" y="378" width="1" height="33" fill="#000"/>
<rect x="473" y="397" width="5" height="14" fill="#000"/>
<rect x="483" y="384" width="1" height="47" fill="#000"/>
<rect x="481" y="396" width="5" height="15" fill="#000"/>
<rect x="482" y="397" width="3" height="13" fill="#fff"/>
<rect x="491" y="379" width="1" height="29" fill="#000"/>
<rect x="489" y="395" width="5" height="6" fill="#000"/>
<rect x="499" y="395" width="1" height="8" fill="#000"/>
<rect x="497" y="396" width="5" height="6" fill="#000"/>
<rect x="498" y="397" width="3" height="4" fill="#fff"/>
<rect x="507" y="368" width="1" height="73" fill="#000"/>
<rect x="505" y="396" width="5" height="17" fill="#000"/>
<rect x="515" y="374" width="1" height="41" fill="#000"/>
<rect x="513" y="374" width="5" height="38" fill="#000"/>
<rect x="514" y="375" width="3" height="36" fill="#fff"/>
<rect x="523" y="352" width="1" height="34" fill="#000"/>
<rect x="521" y="361" width="5" height="13" fill="#000"/>
<rect x="522" y="362" width="3" height="11" fill="#fff"/>
<rect x="531" y="344" width="1" height="38" fill="#000"/>
<rect x="529" y="361" width="5" height="5" fill="#000"/>
<rect x="539" y="329" width="1" height="38" fill="#000"/>
<rect x="537" y="334" width="5" height="32" fill="#000"/>
<rect x="538" y="335" width="3" height="30" fill="#fff"/>
<rect x="547" y="322" width="1" height="7" fill="#000"/>
<rect x="545" y="323" width="5" height="4" fill="#000"/>
<rect x="546" y="324" width="3" height="2" fill="#fff"/>
<rect x="555" y="301" width="1" height="57" fill="#000"/>
<rect x="553" y="323" width="5" height="24" fill="#000"/>
<rect x="563" y="251" width="1" height="98" fill="#000"/>
<rect x="561" y="255" width="5" height="92" fill="#000"/>
<rect x="562" y="256" width="3" height="90" fill="#fff"/>
<rect x="571" y="223" width="1" height="53" fill="#000"/>
<rect x="569" y="226" width="5" height="29" fill="#000"/>
<rect x="570" y="227" width="3" height="27" fill="#fff"/>
<rect x="579" y="184" width="1" height="51" fill="#000"/>
<rect x="577" y="205" width="5" height="20" fill="#000"/>
<rect x="578" y="206" width="3" height="18" fill="#fff"/>
<rect x="587" y="182" width="1" height="31" fill="#000"/>
<rect x="585" y="205" width="5" height="5" fill="#000"/>
<rect x="595" y="213" width="1" height="8" fill="#000"/>
<rect x="593" y="218" width="5" height="3" fill="#000"/>
<rect x="603" y="190" width="1" height="61" fill="#000"/>
<rect x="601" y="221" width="5" height="9" fill="#000"/>
<rect x="611" y="212" width="1" height="27" fill="#000"/>
<rect x="609" y="229" width="5" height="1" fill="#000"/>
<rect x="619" y="203" width="1" height="61" fill="#000"/>
<rect x="617" y="229" width="5" height="21" fill="#000"/>
<rect x="627" y="195" width="1" height="55" fill="#000"/>
<rect x="625" y="205" width="5" height="45" fill="#000"/>
<rect x="626" y="206" width="3" height="43" fill="#fff"/>
<rect x="635" y="192" width="1" height="40" fill="#000"/>
<rect x="633" y="205" width="5" height="22" fill="#000"/>
<rect x="643" y="208" width="1" height="5" fill="#000"/>
<rect x="641" y="212" width="5" height="1" fill="#000"/>
<rect x="651" y="182" width="1" height="43" fill="#000"/>
<rect x="649" y="203" width="5" height="10" fill="#000"/>
<rect x="650" y="204" width="3" height="8" fill="#fff"/>
<rect x="659" y="188" width="1" height="33" fill="#000"/>
<rect x="657" y="198" width="5" height="4" fill="#000"/>
<rect x="658" y="199" width="3" height="2" fill="#fff"/>
<rect x="667" y="158" width="1" height="61" fill="#000"/>
<rect x="665" y="169" width="5" height="29" fill="#000"/>
<rect x="666" y="170" width="3" height="27" fill="#fff"/>
<rect x="675" y="117" width="1" height="56" fill="#000"/>
<rect x="673" y="125" width="5" height="46" fill="#000"/>
<rect x="674" y="126" width="3" height="44" fill="#fff"/>
<rect x="683" y="119" width="1" height="31" fill="#000"/>
<rect x="681" y="124" width="5" height="15" fill="#000"/>
<rect x="691" y="143" width="1" height="17" fill="#000"/>
<rect x="689" y="146" width="5" height="13" fill="#000"/>
<rect x="699" y="130" width="1" height="86" fill="#000"/>
<rect x="697" y="143" width="5" height="16" fill="#000"/>
<rect x="698" y="144" width="3" height="14" fill="#fff"/>
<rect x="707" y="127" width="1" height="73" fill="#000"/>
<rect x="705" y="143" width="5" height="32" fill="#000"/>
<rect x="715" y="152" width="1" height="46" fill="#000"/>
<rect x="713" y="172" width="5" height="3" fill="#000"/>
<rect x="714" y="173" width="3" height="1" fill="#fff"/>
<rect x="723" y="156" width="1" height="27" fill="#000"/>
<rect x="721" y="172" width="5" height="6" fill="#000"/>
<rect x="731" y="162" width="1" height="18" fill="#000"/>
<rect x="729" y="165" width="5" height="14" fill="#000"/>
<rect x="730" y="166" width="3" height="12" fill="#fff"/>
<rect x="739" y="132" width="1" height="48" fill="#000"/>
<rect x="737" y="154" width="5" height="9" fill="#000"/>
<rect x="738" y="155" width="3" height="7" fill="#fff"/>
<rect x="747" y="115" width="1" height="38" fill="#000"/>
<rect x="745" y="132" width="5" height="21" fill="#000"/>
<rect x="746" y="133" width="3" height="19" fill="#fff"/>
<rect x="755" y="91" width="1" height="40" fill="#000"/>
<rect x="753" y="99" width="5" height="32" fill="#000"/>
<rect x="754" y="100" width="3" height="30" fill="#fff"/>
<rect x="763" y="92" width="1" height="69" fill="#000"/>
<rect x="761" y="99" width="5" height="59" fill="#000"/>
<rect x="771" y="130" width="1" height="17" fill="#000"/>
<rect x="769" y="132" width="5" height="12" fill="#000"/>
<rect x="770" y="133" width="3" height="10" fill="#fff"/>
<rect x="779" y="91" width="1" height="50" fill="#000"/>
<rect x="777" y="131" width="5" height="3" fill="#000"/>
<rect x="778" y="132" width="3" height="1" fill="#fff"/>
<rect x="787" y="94" width="1" height="41" fill="#000"/>
<rect x="785" y="99" width="5" height="32" fill="#000"/>
<rect x="786" y="100" width="3" height="30" fill="#fff"/>
<rect x="795" y="63" width="1" height="59" fill="#000"/>
<rect x="793" y="73" width="5" height="26" fill="#000"/>
<rect x="794" y="74" width="3" height="24" fill="#fff"/>
<rect x="803" y="68" width="1" height="69" fill="#000"/>
<rect x="801" y="72" width="5" height="47" fill="#000"/>
<rect x="811" y="109" width="1" height="63" fill="#000"/>
<rect x="809" y="119" width="5" height="37" fill="#000"/>
<rect x="819" y="154" width="1" height="26" fill="#000"/>
<rect x="817" y="157" width="5" height="19" fill="#000"/>
<rect x="827" y="167" width="1" height="46" fill="#000"/>
<rect x="825" y="175" width="5" height="19" fill="#000"/>
<rect x="835" y="161" width="1" height="50" fill="#000"/>
<rect x="833" y="161" width="5" height="32" fill="#000"/>
<rect x="834" y="162" width="3" height="30" fill="#fff"/>
<rect x="843" y="151" width="1" height="58" fill="#000"/>
<rect x="841" y="160" width="5" height="33" fill="#000"/>
<rect x="851" y="181" width="1" height="47" fill="#000"/>
<rect x="849" y="192" width="5" height="8" fill="#000"/>
<rect x="859" y="192" width="1" height="60" fill="#000"/>
<rect x="857" y="200" width="5" height="52" fill="#000"/>
<rect x="867" y="244" width="1" height="14" fill="#000"/>
<rect x="865" y="250" width="5" height="8" fill="#000"/>
<rect x="875" y="244" width="1" height="24" fill="#000"/>
<rect x="873" y="250" width="5" height="7" fill="#000"/>
<rect x="874" y="251" width="3" height="5" fill="#fff"/>
<rect x="883" y="204" width="1" height="47" fill="#000"/>
<rect x="881" y="209" width="5" height="42" fill="#000"/>
<rect x="882" y="210" width="3" height="40" fill="#fff"/>
<rect x="891" y="195" width="1" height="57" fill="#000"/>
<rect x="889" y="209" width="5" height="16" fill="#000"/>
<rect x="899" y="185" width="1" height="45" fill="#000"/>
<rect x="897" y="191" width="5" height="34" fill="#000"/>
<rect x="898" y="192" width="3" height="32" fill="#fff"/>
<rect x="907" y="173" width="1" height="27" fill="#000"/>
<rect x="905" y="190" width="5" height="1" fill="#000"/>
<rect x="915" y="188" width="1" height="3" fill="#000"/>
<rect x="913" y="190" width="5" height="1" fill="#000"/>
<rect x="923" y="178" width="1" height="47" fill="#000"/>
<rect x="921" y="189" width="5" height="17" fill="#000"/>
<rect x="931" y="184" width="1" height="47" fill="#000"/>
<rect x="929" y="192" width="5" height="14" fill="#000"/>
<rect x="930" y="193" width="3" height="12" fill="#fff"/>
<rect x="939" y="187" width="1" height="77" fill="#000"/>
<rect x="937" y="192" width="5" height="42" fill="#000"/>
<rect x="947" y="206" width="1" height="43" fill="#000"/>
<rect x="945" y="221" width="5" height="12" fill="#000"/>
<rect x="946" y="222" width="3" height="10" fill="#fff"/>
<rect x="955" y="197" width="1" height="43" fill="#000"/>
<rect x="953" y="214" width="5" height="7" fill="#000"/>
<rect x="954" y="215" width="3" height="5" fill="#fff"/>
<rect x="963" y="213" width="1" height="9" fill="#000"/>
<rect x="961" y="216" width="5" height="4" fill="#000"/>
<rect x="971" y="210" width="1" height="56" fill="#000"/>
<rect x="969" y="220" width="5" height="38" fill="#000"/>
<rect x="979" y="243" width="1" height="54" fill="#000"/>
<rect x="977" y="257" width="5" height="23" fill="#000"/>
<rect x="987" y="269" width="1" height="33" fill="#000"/>
<rect x="985" y="275" width="5" height="4" fill="#000"/>
<rect x="986" y="276" width="3" height="2" fill="#fff"/>
<rect x="995" y="274" width="1" height="60" fill="#000"/>
<rect x="993" y="275" width="5" height="53" fill="#000"/>
<rect x="1003" y="270" width="1" height="67" fill="#000"/>
<rect x="1001" y="275" width="5" height="53" fill="#000"/>
<rect x="1002" y="276" width="3" height="51" fill="#fff"/>
<rect x="1011" y="267" width="1" height="8" fill="#000"/>
<rect x="1009" y="270" width="5" height="5" fill="#000"/>
<rect x="1010" y="271" width="3" height="3" fill="#fff"/>
<rect x="1019" y="258" width="1" height="33" fill="#000"/>
<rect x="1017" y="268" width="5" height="3" fill="#000"/>
<rect x="1018" y="269" width="3" height="1" fill="#fff"/>
<rect x="1027" y="221" width="1" height="50" fill="#000"/>
<rect x="1025" y="224" width="5" height="44" fill="#000"/>
<rect x="1026" y="225" width="3" height="42" fill="#fff"/>
<rect x="1035" y="205" width="1" height="25" fill="#000"/>
<rect x="1033" y="223" width="5" height="1" fill="#000"/>
<rect x="1043" y="201" width="1" height="26" fill="#000"/>
<rect x="1041" y="214" width="5" height="9" fill="#000"/>
<rect x="1042" y="215" width="3" height="7" fill="#fff"/>
<rect x="1051" y="212" width="1" height="37" fill="#000"/>
<rect x="1049" y="214" width="5" height="10" fill="#000"/>
<rect x="1059" y="218" width="1" height="4" fill="#000"/>
<rect x="1057" y="221" width="5" height="1" fill="#000"/>
<rect x="1067" y="204" width="1" height="21" fill="#000"/>
<rect x="1065" y="213" width="5" height="8" fill="#000"/>
<rect x="1066" y="214" width="3" height="6" fill="#fff"/>
<rect x="1075" y="187" width="1" height="59" fill="#000"/>
<rect x="1073" y="213" width="5" height="31" fill="#000"/>
<rect x="1083" y="236" width="1" height="53" fill="#000"/>
<rect x="1081" y="243" width="5" height="30" fill="#000"/>
<rect x="1091" y="238" width="1" height="42" fill="#000"/>
<rect x="1089" y="242" width="5" height="30" fill="#000"/>
<rect x="1090" y="243" width="3" height="28" fill="#fff"/>
<rect x="1099" y="205" width="1" height="43" fill="#000"/>
<rect x="1097" y="224" width="5" height="18" fill="#000"/>
<rect x="1098" y="225" width="3" height="16" fill="#fff"/>
<rect x="1107" y="215" width="1" height="11" fill="#000"/>
<rect x="1105" y="218" width="5" height="1" fill="#000"/>
<rect x="1115" y="187" width="1" height="55" fill="#000"/>
<rect x="1113" y="191" width="5" height="27" fill="#000"/>
<rect x="1114" y="192" width="3" height="25" fill="#fff"/>
<rect x="1123" y="180" width="1" height="32" fill="#000"/>
<rect x="1121" y="191" width="5" height="10" fill="#000"/>
<rect x="1131" y="184" width="1" height="46" fill="#000"/>
<rect x="1129" y="187" width="5" height="14" fill="#000"/>
<rect x="1130" y="188" width="3" height="12" fill="#fff"/>
<rect x="1139" y="137" width="1" height="61" fill="#000"/>
<rect x="1137" y="188" width="5" height="8" fill="#000"/>
<rect x="1147" y="178" width="1" height="77" fill="#000"/>
<rect x="1145" y="195" width="5" height="56" fill="#000"/>
<rect x="1155" y="242" width="1" height="14" fill="#000"/>
<rect x="1153" y="242" width="5" height="11" fill="#000"/>
<rect x="1154" y="243" width="3" height="9" fill="#fff"/>
<rect x="1163" y="237" width="1" height="49" fill="#000"/>
<rect x="1161" y="241" width="5" height="29" fill="#000"/>
<rect x="1171" y="239" width="1" height="71" fill="#000"/>
<rect x="1169" y="245" width="5" height="25" fill="#000"/>
<rect x="1170" y="246" width="3" height="23" fill="#fff"/>
<rect x="1179" y="226" width="1" height="49" fill="#000"/>
<rect x="1177" y="246" width="5" height="26" fill="#000"/>
<rect x="1187" y="261" width="1" height="71" fill="#000"/>
<rect x="1185" y="270" width="5" height="56" fill="#000"/>
<rect x="1195" y="322" width="1" height="56" fill="#000"/>
<rect x="1193" y="326" width="5" height="38" fill="#000"/>
<rect x="1203" y="350" width="1" height="12" fill="#000"/>
<rect x="1201" y="354" width="5" height="4" fill="#000"/>
<rect x="1211" y="350" width="1" height="60" fill="#000"/>
<rect x="1209" y="354" width="5" height="52" fill="#000"/>
<rect x="1219" y="361" width="1" height="55" fill="#000"/>
<rect x="1217" y="374" width="5" height="32" fill="#000"/>
<rect x="1218" y="375" width="3" height="30" fill="#fff"/>
<rect x="1227" y="352" width="1" height="42" fill="#000"/>
<rect x="1225" y="355" width="5" height="20" fill="#000"/>
<rect x="1226" y="356" width="3" height="18" fill="#fff"/>
<rect x="1235" y="310" width="1" height="52" fill="#000"/>
<rect x="1233" y="317" width="5" height="39" fill="#000"/>
<rect x="1234" y="318" width="3" height="37" fill="#fff"/>
<rect x="1243" y="311" width="1" height="55" fill="#000"/>
<rect x="1241" y="317" width="5" height="22" fill="#000"/>
<rect x="1251" y="336" width="1" height="6" fill="#000"/>
<rect x="1249" y="338" width="5" height="2" fill="#000"/>
<rect x="1259" y="326" width="1" height="40" fill="#000"/>
<rect x="1257" y="338" width="5" height="17" fill="#000"/>
<rect x="1267" y="337" width="1" height="48" fill="#000"/>
<rect x="1265" y="354" width="5" height="18" fill="#000"/>
<rect x="1275" y="311" width="1" height="72" fill="#000"/>
<rect x="1273" y="316" width="5" height="56" fill="#000"/>
<rect x="1274" y="317" width="3" height="54" fill="#fff"/>
<rect x="1283" y="309" width="1" height="60" fill="#000"/>
<rect x="1281" y="316" width="5" height="45" fill="#000"/>
<rect x="1291" y="347" width="1" height="44" fill="#000"/>
<rect x="1289" y="360" width="5" height="7" fill="#000"/>
<rect x="1299" y="379" width="1" height="7" fill="#000"/>
<rect x="1297" y="383" width="5" height="1" fill="#000"/>
<rect x="1307" y="340" width="1" height="51" fill="#000"/>
<rect x="1305" y="350" width="5" height="34" fill="#000"/>
<rect x="1306" y="351" width="3" height="32" fill="#fff"/>
<rect x="1315" y="344" width="1" height="73" fill="#000"/>
<rect x="1313" y="350" width="5" height="64" fill="#000"/>
<rect x="1323" y="406" width="1" height="28" fill="#000"/>
<rect x="1321" y="413" width="5" height="20" fill="#000"/>
<rect x="1331" y="423" width="1" height="45" fill="#000"/>
<rect x="1329" y="431" width="5" height="27" fill="#000"/>
<rect x="1339" y="443" width="1" height="18" fill="#000"/>
<rect x="1337" y="448" width="5" height="10" fill="#000"/>
<rect x="1338" y="449" width="3" height="8" fill="#fff"/>
<rect x="1347" y="445" width="1" height="6" fill="#000"/>
<rect x="1345" y="447" width="5" height="3" fill="#000"/>
<rect x="1355" y="445" width="1" height="20" fill="#000"/>
<rect x="1353" y="449" width="5" height="13" fill="#000"/>
<rect x="1363" y="459" width="1" height="43" fill="#000"/>
<rect x="1361" y="462" width="5" height="31" fill="#000"/>
<rect x="1371" y="468" width="1" height="39" fill="#000"/>
<rect x="1369" y="491" width="5" height="1" fill="#000"/>
<rect x="1379" y="454" width="1" height="47" fill="#000"/>
<rect x="1377" y="457" width="5" height="34" fill="#000"/>
<rect x="1378" y="458" width="3" height="32" fill="#fff"/>
<rect x="1387" y="462" width="1" height="8" fill="#000"/>
<rect x="1385" y="463" width="5" height="3" fill="#000"/>
<rect x="1386" y="464" width="3" height="1" fill="#fff"/>
<rect x="1395" y="427" width="1" height="57" fill="#000"/>
<rect x="1393" y="429" width="5" height="34" fill="#000"/>
<rect x="1394" y="430" width="3" height="32" fill="#fff"/>
<rect x="1403" y="387" width="1" height="58" fill="#000"/>
<rect x="1401" y="390" width="5" height="39" fill="#000"/>
<rect x="1402" y="391" width="3" height="37" fill="#fff"/>
<rect x="1411" y="362" width="1" height="35" fill="#000"/>
<rect x="1409" y="390" width="5" height="4" fill="#000"/>
</g>
<rect x="1320" y="399" width="141" height="7" fill="#00ff00" shape-rendering="crispEdges"/>
<g shape-rendering="crispEdges"><rect x="724.5" y="55.5" width="61" height="18" fill="#fff" stroke="#ff0000" stroke-width="1"/>
<rect x="786" y="63" width="10" height="1" fill="#ff0000"/>
</g>
<text x="726.5" y="71.2" font-family="'Liberation Serif',serif" font-size="18" fill="#ff0000" textLength="58" lengthAdjust="spacingAndGlyphs">1.23496</text>
<g shape-rendering="crispEdges"><rect x="1068.5" y="128.5" width="61" height="18" fill="#fff" stroke="#ff0000" stroke-width="1"/>
<rect x="1130" y="137" width="10" height="1" fill="#ff0000"/>
</g>
<text x="1070.5" y="144.2" font-family="'Liberation Serif',serif" font-size="18" fill="#ff0000" textLength="58" lengthAdjust="spacingAndGlyphs">1.22418</text>
<g shape-rendering="crispEdges"><rect x="932.5" y="328.5" width="61" height="18" fill="#fff" stroke="#ff0000" stroke-width="1"/>
<rect x="994" y="336" width="10" height="1" fill="#ff0000"/>
</g>
<text x="934.5" y="344.2" font-family="'Liberation Serif',serif" font-size="18" fill="#ff0000" textLength="58" lengthAdjust="spacingAndGlyphs">1.19505</text>
<g shape-rendering="crispEdges"><rect x="340.5" y="351.5" width="61" height="18" fill="#fff" stroke="#ff0000" stroke-width="1"/>
<rect x="402" y="359" width="10" height="1" fill="#ff0000"/>
</g>
<text x="342.5" y="367.2" font-family="'Liberation Serif',serif" font-size="18" fill="#ff0000" textLength="58" lengthAdjust="spacingAndGlyphs">1.19185</text>
<g shape-rendering="crispEdges"><rect x="212.5" y="376.5" width="61" height="18" fill="#fff" stroke="#ff0000" stroke-width="1"/>
<rect x="274" y="385" width="10" height="1" fill="#ff0000"/>
</g>
<text x="214.5" y="392.2" font-family="'Liberation Serif',serif" font-size="18" fill="#ff0000" textLength="58" lengthAdjust="spacingAndGlyphs">1.18806</text>
<g shape-rendering="crispEdges"><rect x="308.5" y="568.5" width="61" height="18" fill="#fff" stroke="#ff0000" stroke-width="1"/>
<rect x="370" y="576" width="10" height="1" fill="#ff0000"/>
</g>
<text x="310.5" y="584.2" font-family="'Liberation Serif',serif" font-size="18" fill="#ff0000" textLength="58" lengthAdjust="spacingAndGlyphs">1.16009</text>
<g shape-rendering="crispEdges"><rect x="1020.5" y="392.5" width="61" height="18" fill="#fff" stroke="#ff0000" stroke-width="1"/>
<rect x="1085" y="401" width="7" height="1" fill="#ff0000"/>
</g>
<text x="1022.5" y="408.2" font-family="'Liberation Serif',serif" font-size="18" fill="#ff0000" textLength="58" lengthAdjust="spacingAndGlyphs">1.18573</text>
<rect x="1082.5" y="399.5" width="2" height="3" fill="#fff" stroke="#ff0000" shape-rendering="crispEdges"/>
<g shape-rendering="crispEdges"><rect x="1148.5" y="406.5" width="61" height="18" fill="#fff" stroke="#ff0000" stroke-width="1"/>
<rect x="1210" y="415" width="10" height="1" fill="#ff0000"/>
</g>
<text x="1150.5" y="422.2" font-family="'Liberation Serif',serif" font-size="18" fill="#ff0000" textLength="58" lengthAdjust="spacingAndGlyphs">1.18369</text>
<rect x="1500.5" y="403.5" width="110" height="24" fill="none" stroke="#404040" shape-rendering="crispEdges"/>
<text x="1501" y="422" font-family="'Liberation Serif','Noto Serif CJK SC',serif" font-weight="400" font-size="20" letter-spacing="2.1" fill="#00ff00">多空转折点</text>
<g shape-rendering="crispEdges">
<rect x="3" y="670" width="1" height="14" fill="#c0c0c0"/>
<rect x="11" y="671" width="1" height="13" fill="#c0c0c0"/>
<rect x="19" y="671" width="1" height="13" fill="#c0c0c0"/>
<rect x="27" y="670" width="1" height="14" fill="#c0c0c0"/>
<rect x="35" y="670" width="1" height="14" fill="#c0c0c0"/>
<rect x="43" y="674" width="1" height="10" fill="#c0c0c0"/>
<rect x="51" y="674" width="1" height="10" fill="#c0c0c0"/>
<rect x="59" y="673" width="1" height="11" fill="#c0c0c0"/>
<rect x="67" y="673" width="1" height="11" fill="#c0c0c0"/>
<rect x="75" y="680" width="1" height="4" fill="#c0c0c0"/>
<rect x="83" y="683" width="1" height="7" fill="#c0c0c0"/>
<rect x="91" y="683" width="1" height="18" fill="#c0c0c0"/>
<rect x="99" y="683" width="1" height="25" fill="#c0c0c0"/>
<rect x="107" y="683" width="1" height="35" fill="#c0c0c0"/>
<rect x="115" y="683" width="1" height="41" fill="#c0c0c0"/>
<rect x="123" y="683" width="1" height="42" fill="#c0c0c0"/>
<rect x="131" y="683" width="1" height="37" fill="#c0c0c0"/>
<rect x="139" y="683" width="1" height="34" fill="#c0c0c0"/>
<rect x="147" y="683" width="1" height="30" fill="#c0c0c0"/>
<rect x="155" y="683" width="1" height="29" fill="#c0c0c0"/>
<rect x="163" y="683" width="1" height="28" fill="#c0c0c0"/>
<rect x="171" y="683" width="1" height="21" fill="#c0c0c0"/>
<rect x="179" y="683" width="1" height="19" fill="#c0c0c0"/>
<rect x="187" y="683" width="1" height="15" fill="#c0c0c0"/>
<rect x="195" y="683" width="1" height="12" fill="#c0c0c0"/>
<rect x="203" y="683" width="1" height="5" fill="#c0c0c0"/>
<rect x="211" y="683" width="1" height="1" fill="#c0c0c0"/>
<rect x="219" y="680" width="1" height="4" fill="#c0c0c0"/>
<rect x="227" y="682" width="1" height="2" fill="#c0c0c0"/>
<rect x="243" y="683" width="1" height="6" fill="#c0c0c0"/>
<rect x="251" y="683" width="1" height="8" fill="#c0c0c0"/>
<rect x="259" y="683" width="1" height="10" fill="#c0c0c0"/>
<rect x="267" y="683" width="1" height="8" fill="#c0c0c0"/>
<rect x="283" y="677" width="1" height="7" fill="#c0c0c0"/>
<rect x="291" y="674" width="1" height="10" fill="#c0c0c0"/>
<rect x="299" y="669" width="1" height="15" fill="#c0c0c0"/>
<rect x="307" y="666" width="1" height="18" fill="#c0c0c0"/>
<rect x="315" y="667" width="1" height="17" fill="#c0c0c0"/>
<rect x="323" y="670" width="1" height="14" fill="#c0c0c0"/>
<rect x="331" y="675" width="1" height="9" fill="#c0c0c0"/>
<rect x="347" y="683" width="1" height="11" fill="#c0c0c0"/>
<rect x="355" y="683" width="1" height="19" fill="#c0c0c0"/>
<rect x="363" y="683" width="1" height="25" fill="#c0c0c0"/>
<rect x="371" y="683" width="1" height="20" fill="#c0c0c0"/>
<rect x="379" y="683" width="1" height="18" fill="#c0c0c0"/>
<rect x="387" y="683" width="1" height="10" fill="#c0c0c0"/>
<rect x="395" y="682" width="1" height="2" fill="#c0c0c0"/>
<rect x="403" y="672" width="1" height="12" fill="#c0c0c0"/>
<rect x="411" y="670" width="1" height="14" fill="#c0c0c0"/>
<rect x="419" y="669" width="1" height="15" fill="#c0c0c0"/>
<rect x="427" y="671" width="1" height="13" fill="#c0c0c0"/>
<rect x="435" y="671" width="1" height="13" fill="#c0c0c0"/>
<rect x="443" y="669" width="1" height="15" fill="#c0c0c0"/>
<rect x="451" y="667" width="1" height="17" fill="#c0c0c0"/>
<rect x="459" y="664" width="1" height="20" fill="#c0c0c0"/>
<rect x="467" y="662" width="1" height="22" fill="#c0c0c0"/>
<rect x="475" y="662" width="1" height="22" fill="#c0c0c0"/>
<rect x="483" y="660" width="1" height="24" fill="#c0c0c0"/>
<rect x="491" y="660" width="1" height="24" fill="#c0c0c0"/>
<rect x="499" y="659" width="1" height="25" fill="#c0c0c0"/>
<rect x="507" y="661" width="1" height="23" fill="#c0c0c0"/>
<rect x="515" y="658" width="1" height="26" fill="#c0c0c0"/>
<rect x="523" y="655" width="1" height="29" fill="#c0c0c0"/>
<rect x="531" y="653" width="1" height="31" fill="#c0c0c0"/>
<rect x="539" y="649" width="1" height="35" fill="#c0c0c0"/>
<rect x="547" y="644" width="1" height="40" fill="#c0c0c0"/>
<rect x="555" y="644" width="1" height="40" fill="#c0c0c0"/>
<rect x="563" y="634" width="1" height="50" fill="#c0c0c0"/>
<rect x="571" y="623" width="1" height="61" fill="#c0c0c0"/>
<rect x="579" y="613" width="1" height="71" fill="#c0c0c0"/>
<rect x="587" y="607" width="1" height="77" fill="#c0c0c0"/>
<rect x="595" y="604" width="1" height="80" fill="#c0c0c0"/>
<rect x="603" y="604" width="1" height="80" fill="#c0c0c0"/>
<rect x="611" y="604" width="1" height="80" fill="#c0c0c0"/>
<rect x="619" y="608" width="1" height="76" fill="#c0c0c0"/>
<rect x="627" y="607" width="1" height="77" fill="#c0c0c0"/>
<rect x="635" y="609" width="1" height="75" fill="#c0c0c0"/>
<rect x="643" y="610" width="1" height="74" fill="#c0c0c0"/>
<rect x="651" y="611" width="1" height="73" fill="#c0c0c0"/>
<rect x="659" y="611" width="1" height="73" fill="#c0c0c0"/>
<rect x="667" y="610" width="1" height="74" fill="#c0c0c0"/>
<rect x="675" y="604" width="1" height="80" fill="#c0c0c0"/>
<rect x="683" y="602" width="1" height="82" fill="#c0c0c0"/>
<rect x="691" y="604" width="1" height="80" fill="#c0c0c0"/>
<rect x="699" y="604" width="1" height="80" fill="#c0c0c0"/>
<rect x="707" y="609" width="1" height="75" fill="#c0c0c0"/>
<rect x="715" y="613" width="1" height="71" fill="#c0c0c0"/>
<rect x="723" y="618" width="1" height="66" fill="#c0c0c0"/>
<rect x="731" y="621" width="1" height="63" fill="#c0c0c0"/>
<rect x="739" y="623" width="1" height="61" fill="#c0c0c0"/>
<rect x="747" y="623" width="1" height="61" fill="#c0c0c0"/>
<rect x="755" y="620" width="1" height="64" fill="#c0c0c0"/>
<rect x="763" y="625" width="1" height="59" fill="#c0c0c0"/>
<rect x="771" y="626" width="1" height="58" fill="#c0c0c0"/>
<rect x="779" y="628" width="1" height="56" fill="#c0c0c0"/>
<rect x="787" y="626" width="1" height="58" fill="#c0c0c0"/>
<rect x="795" y="623" width="1" height="61" fill="#c0c0c0"/>
<rect x="803" y="626" width="1" height="58" fill="#c0c0c0"/>
<rect x="811" y="633" width="1" height="51" fill="#c0c0c0"/>
<rect x="819" y="642" width="1" height="42" fill="#c0c0c0"/>
<rect x="827" y="651" width="1" height="33" fill="#c0c0c0"/>
<rect x="835" y="655" width="1" height="29" fill="#c0c0c0"/>
<rect x="843" y="662" width="1" height="22" fill="#c0c0c0"/>
<rect x="851" y="668" width="1" height="16" fill="#c0c0c0"/>
<rect x="859" y="679" width="1" height="5" fill="#c0c0c0"/>
<rect x="867" y="683" width="1" height="6" fill="#c0c0c0"/>
<rect x="875" y="683" width="1" height="12" fill="#c0c0c0"/>
<rect x="883" y="683" width="1" height="12" fill="#c0c0c0"/>
<rect x="891" y="683" width="1" height="14" fill="#c0c0c0"/>
<rect x="899" y="683" width="1" height="12" fill="#c0c0c0"/>
<rect x="907" y="683" width="1" height="10" fill="#c0c0c0"/>
<rect x="915" y="683" width="1" height="8" fill="#c0c0c0"/>
<rect x="923" y="683" width="1" height="8" fill="#c0c0c0"/>
<rect x="931" y="683" width="1" height="7" fill="#c0c0c0"/>
<rect x="939" y="683" width="1" height="10" fill="#c0c0c0"/>
<rect x="947" y="683" width="1" height="12" fill="#c0c0c0"/>
<rect x="955" y="683" width="1" height="12" fill="#c0c0c0"/>
<rect x="963" y="683" width="1" height="12" fill="#c0c0c0"/>
<rect x="971" y="683" width="1" height="17" fill="#c0c0c0"/>
<rect x="979" y="683" width="1" height="23" fill="#c0c0c0"/>
<rect x="987" y="683" width="1" height="26" fill="#c0c0c0"/>
<rect x="995" y="683" width="1" height="35" fill="#c0c0c0"/>
<rect x="1003" y="683" width="1" height="35" fill="#c0c0c0"/>
<rect x="1011" y="683" width="1" height="35" fill="#c0c0c0"/>
<rect x="1019" y="683" width="1" height="34" fill="#c0c0c0"/>
<rect x="1027" y="683" width="1" height="28" fill="#c0c0c0"/>
<rect x="1035" y="683" width="1" height="22" fill="#c0c0c0"/>
<rect x="1043" y="683" width="1" height="17" fill="#c0c0c0"/>
<rect x="1051" y="683" width="1" height="14" fill="#c0c0c0"/>
<rect x="1059" y="683" width="1" height="11" fill="#c0c0c0"/>
<rect x="1067" y="683" width="1" height="7" fill="#c0c0c0"/>
<rect x="1075" y="683" width="1" height="8" fill="#c0c0c0"/>
<rect x="1083" y="683" width="1" height="12" fill="#c0c0c0"/>
<rect x="1091" y="683" width="1" height="11" fill="#c0c0c0"/>
<rect x="1099" y="683" width="1" height="9" fill="#c0c0c0"/>
<rect x="1107" y="683" width="1" height="6" fill="#c0c0c0"/>
<rect x="1123" y="680" width="1" height="4" fill="#c0c0c0"/>
<rect x="1131" y="677" width="1" height="7" fill="#c0c0c0"/>
<rect x="1139" y="675" width="1" height="9" fill="#c0c0c0"/>
<rect x="1147" y="679" width="1" height="5" fill="#c0c0c0"/>
<rect x="1155" y="682" width="1" height="2" fill="#c0c0c0"/>
<rect x="1163" y="683" width="1" height="4" fill="#c0c0c0"/>
<rect x="1171" y="683" width="1" height="6" fill="#c0c0c0"/>
<rect x="1179" y="683" width="1" height="10" fill="#c0c0c0"/>
<rect x="1187" y="683" width="1" height="19" fill="#c0c0c0"/>
<rect x="1195" y="683" width="1" height="30" fill="#c0c0c0"/>
<rect x="1203" y="683" width="1" height="38" fill="#c0c0c0"/>
<rect x="1211" y="683" width="1" height="49" fill="#c0c0c0"/>
<rect x="1219" y="683" width="1" height="53" fill="#c0c0c0"/>
<rect x="1227" y="683" width="1" height="54" fill="#c0c0c0"/>
<rect x="1235" y="683" width="1" height="50" fill="#c0c0c0"/>
<rect x="1243" y="683" width="1" height="49" fill="#c0c0c0"/>
<rect x="1251" y="683" width="1" height="47" fill="#c0c0c0"/>
<rect x="1259" y="683" width="1" height="47" fill="#c0c0c0"/>
<rect x="1267" y="683" width="1" height="48" fill="#c0c0c0"/>
<rect x="1275" y="683" width="1" height="42" fill="#c0c0c0"/>
<rect x="1283" y="683" width="1" height="42" fill="#c0c0c0"/>
<rect x="1291" y="683" width="1" height="43" fill="#c0c0c0"/>
<rect x="1299" y="683" width="1" height="44" fill="#c0c0c0"/>
<rect x="1307" y="683" width="1" height="41" fill="#c0c0c0"/>
<rect x="1315" y="683" width="1" height="46" fill="#c0c0c0"/>
<rect x="1323" y="683" width="1" height="51" fill="#c0c0c0"/>
<rect x="1331" y="683" width="1" height="57" fill="#c0c0c0"/>
<rect x="1339" y="683" width="1" height="60" fill="#c0c0c0"/>
<rect x="1347" y="683" width="1" height="62" fill="#c0c0c0"/>
<rect x="1355" y="683" width="1" height="64" fill="#c0c0c0"/>
<rect x="1363" y="683" width="1" height="69" fill="#c0c0c0"/>
<rect x="1371" y="683" width="1" height="71" fill="#c0c0c0"/>
<rect x="1379" y="683" width="1" height="69" fill="#c0c0c0"/>
<rect x="1387" y="683" width="1" height="66" fill="#c0c0c0"/>
<rect x="1395" y="683" width="1" height="60" fill="#c0c0c0"/>
<rect x="1403" y="683" width="1" height="50" fill="#c0c0c0"/>
<rect x="1411" y="683" width="1" height="42" fill="#c0c0c0"/>
</g>
<polyline fill="none" stroke="#ff0000" stroke-width="1.1" stroke-dasharray="3 3" points="-4.5,646.5 3.5,648.3 11.5,655.2 19.5,658.9 27.5,661.6 35.5,664.4 43.5,666.3 51.5,669.1 59.5,670.5 67.5,671.5 75.5,672.6 83.5,674.7 91.5,677.9 99.5,682.2 107.5,687.4 115.5,692.9 123.5,698.6 131.5,703.8 139.5,708.7 147.5,712.5 155.5,715.0 163.5,716.1 171.5,715.6 179.5,713.9 187.5,711.0 195.5,707.8 203.5,704.2 211.5,700.4 219.5,696.6 227.5,693.3 235.5,690.3 243.5,688.7 251.5,687.5 259.5,686.9 267.5,686.4 275.5,685.9 283.5,685.2 291.5,684.6 299.5,683.2 307.5,681.1 315.5,678.7 323.5,676.3 331.5,674.3 339.5,673.5 347.5,674.6 355.5,677.4 363.5,681.2 371.5,684.9 379.5,688.9 387.5,691.8 395.5,693.2 403.5,692.9 411.5,691.4 419.5,688.6 427.5,685.1 435.5,681.0 443.5,677.2 451.5,673.4 459.5,670.1 467.5,667.8 475.5,666.6 483.5,665.5 491.5,664.5 499.5,663.2 507.5,662.1 515.5,661.0 523.5,659.7 531.5,658.6 539.5,657.1 547.5,655.3 555.5,653.5 563.5,650.6 571.5,646.6 579.5,641.3 587.5,635.6 595.5,629.9 603.5,624.4 611.5,619.4 619.5,615.4 627.5,611.2 635.5,608.4 643.5,606.9 651.5,606.6 659.5,607.1 667.5,607.7 675.5,607.7 683.5,607.5 691.5,607.0 699.5,606.8 707.5,606.8 715.5,607.2 723.5,608.0 731.5,609.2 739.5,610.7 747.5,612.8 755.5,614.8 763.5,617.1 771.5,619.5 779.5,621.6 787.5,623.0 795.5,623.5 803.5,624.0 811.5,625.1 819.5,627.2 827.5,630.7 835.5,634.0 843.5,638.0 851.5,642.5 859.5,648.4 867.5,655.7 875.5,663.4 883.5,670.3 891.5,676.5 899.5,681.3 907.5,685.6 915.5,688.8 923.5,691.3 931.5,692.5 939.5,693.0 947.5,693.0 955.5,692.9 963.5,692.6 971.5,693.2 979.5,694.6 987.5,696.6 995.5,699.6 1003.5,702.8 1011.5,705.5 1019.5,708.0 1027.5,709.8 1035.5,710.9 1043.5,710.9 1051.5,710.0 1059.5,708.2 1067.5,705.2 1075.5,702.1 1083.5,699.6 1091.5,697.1 1099.5,695.0 1107.5,693.1 1115.5,691.3 1123.5,689.5 1131.5,687.5 1139.5,685.8 1147.5,684.5 1155.5,683.0 1163.5,682.3 1171.5,682.0 1179.5,682.4 1187.5,684.4 1195.5,688.1 1203.5,693.0 1211.5,699.3 1219.5,705.7 1227.5,711.8 1235.5,716.9 1243.5,721.6 1251.5,725.8 1259.5,728.9 1267.5,730.9 1275.5,731.4 1283.5,730.7 1291.5,729.5 1299.5,728.4 1307.5,727.5 1315.5,727.1 1323.5,727.6 1331.5,728.7 1339.5,730.0 1347.5,732.1 1355.5,734.5 1363.5,737.4 1371.5,740.4 1379.5,743.4 1387.5,745.7 1395.5,746.8 1403.5,746.1 1411.5,744.1"/>
<g shape-rendering="crispEdges">
<line x1="0" y1="800.5" x2="1682" y2="800.5" stroke="#c0c0c0" stroke-dasharray="3 3"/>
<line x1="0" y1="851.5" x2="1682" y2="851.5" stroke="#c0c0c0" stroke-dasharray="3 3"/>
<line x1="0" y1="912.5" x2="1682" y2="912.5" stroke="#c0c0c0" stroke-dasharray="3 3"/>
</g>
<polyline fill="none" stroke="#1e90ff" stroke-width="1" shape-rendering="crispEdges" points="-4.5,851 3.5,849.7 11.5,848.2 19.5,846.2 27.5,841.0 35.5,846.9 43.5,855.3 51.5,846.1 59.5,845.1 67.5,846.7 75.5,864.2 83.5,873.3 91.5,880.0 99.5,875.7 107.5,882.5 115.5,879.0 123.5,869.0 131.5,855.7 139.5,858.7 147.5,854.6 155.5,860.4 163.5,858.9 171.5,845.1 179.5,855.0 187.5,849.7 195.5,849.7 203.5,839.5 211.5,841.4 219.5,842.1 227.5,856.5 235.5,856.5 243.5,863.3 251.5,860.3 259.5,860.8 267.5,848.9 275.5,837.7 283.5,833.9 291.5,842.9 299.5,835.4 307.5,837.8 315.5,846.8 323.5,852.2 331.5,858.7 339.5,870.3 347.5,875.3 355.5,875.5 363.5,875.6 371.5,849.4 379.5,854.7 387.5,841.2 395.5,832.6 403.5,831.2 411.5,843.9 419.5,844.9 427.5,851.6 435.5,847.6 443.5,843.0 451.5,841.2 459.5,838.8 467.5,838.2 475.5,842.6 483.5,838.8 491.5,840.7 499.5,839.1 507.5,845.5 515.5,834.5 523.5,831.2 531.5,832.9 539.5,824.9 547.5,822.6 555.5,832.8 563.5,814.7 571.5,810.5 579.5,807.7 587.5,809.7 595.5,814.5 603.5,818.0 611.5,818.2 619.5,827.1 627.5,817.9 635.5,826.4 643.5,823.7 651.5,821.5 659.5,820.6 667.5,814.8 675.5,807.7 683.5,813.6 691.5,822.1 699.5,819.1 707.5,831.8 715.5,831.0 723.5,833.8 731.5,830.2 739.5,827.4 747.5,822.2 755.5,815.5 763.5,838.4 771.5,832.6 779.5,832.2 787.5,825.4 795.5,820.2 803.5,836.7 811.5,847.6 819.5,852.6 827.5,857.4 835.5,848.5 843.5,856.8 851.5,858.5 859.5,869.7 867.5,871.1 875.5,868.5 883.5,856.0 891.5,860.1 899.5,850.7 907.5,850.7 915.5,850.4 923.5,855.3 931.5,851.1 939.5,862.6 947.5,858.6 955.5,856.4 963.5,857.9 971.5,868.5 979.5,873.8 987.5,872.0 995.5,883.3 1003.5,864.8 1011.5,863.5 1019.5,862.8 1027.5,849.5 1035.5,849.0 1043.5,846.7 1051.5,850.0 1059.5,849.1 1067.5,846.3 1075.5,857.0 1083.5,865.8 1091.5,854.6 1099.5,849.1 1107.5,847.5 1115.5,839.3 1123.5,842.7 1131.5,838.8 1139.5,842.4 1147.5,860.7 1155.5,857.3 1163.5,865.5 1171.5,856.8 1179.5,864.1 1187.5,876.4 1195.5,883.1 1203.5,880.8 1211.5,888.7 1219.5,877.6 1227.5,871.7 1235.5,860.6 1243.5,865.3 1251.5,865.4 1259.5,868.8 1267.5,872.4 1275.5,855.5 1283.5,865.5 1291.5,866.7 1299.5,870.3 1307.5,860.4 1315.5,872.9 1323.5,876.1 1331.5,880.1 1339.5,877.2 1347.5,877.5 1355.5,879.8 1363.5,885.2 1371.5,884.7 1379.5,871.9 1387.5,873.2 1395.5,861.8 1403.5,850.6 1411.5,851.6"/>
<line x1="1148.0" y1="184.0" x2="1217.9" y2="411.2" stroke="#ff0000" stroke-width="3.6" stroke-linecap="butt"/>
<path d="M1220.0 402.7L1218.7 413.6L1211.4 405.3" fill="none" stroke="#ff0000" stroke-width="2.8" stroke-linejoin="miter" stroke-linecap="butt"/>
<line x1="1219.4" y1="416.0" x2="1278.6" y2="311.1" stroke="#ff0000" stroke-width="3.6" stroke-linecap="butt"/>
<path d="M1271.0 315.4L1279.9 308.9L1278.8 319.8" fill="none" stroke="#ff0000" stroke-width="2.8" stroke-linejoin="miter" stroke-linecap="butt"/>
<line x1="1281.1" y1="306.7" x2="1368.7" y2="498.9" stroke="#ff0000" stroke-width="3.6" stroke-linecap="butt"/>
<path d="M1369.7 490.1L1369.8 501.1L1361.5 493.8" fill="none" stroke="#ff0000" stroke-width="2.8" stroke-linejoin="miter" stroke-linecap="butt"/>
<line x1="1370.8" y1="503.4" x2="1426.5" y2="364.1" stroke="#ff0000" stroke-width="3.6" stroke-linecap="butt"/>
<path d="M1419.6 369.5L1427.5 361.8L1427.9 372.8" fill="none" stroke="#ff0000" stroke-width="2.8" stroke-linejoin="miter" stroke-linecap="butt"/>
<line x1="1379.8" y1="754.9" x2="1410.0" y2="709.9" stroke="#ff0000" stroke-width="3.0" stroke-linecap="butt"/>
<path d="M1402.1 713.6L1411.4 707.8L1409.5 718.6" fill="none" stroke="#ff0000" stroke-width="2.8" stroke-linejoin="miter" stroke-linecap="butt"/>
<line x1="1368.6" y1="886.7" x2="1406.7" y2="854.1" stroke="#ff0000" stroke-width="3.0" stroke-linecap="butt"/>
<path d="M1398.1 855.6L1408.6 852.4L1403.9 862.4" fill="none" stroke="#ff0000" stroke-width="2.8" stroke-linejoin="miter" stroke-linecap="butt"/>
<g font-family="'Liberation Sans',sans-serif" font-size="9.7" fill="#000" stroke="#000" stroke-width="0.15">
<rect x="1683" y="59" width="2" height="1" fill="#000" stroke="none" shape-rendering="crispEdges"/>
<text transform="translate(1688.3 62.9) scale(0.930 1)" xml:space="preserve">1.23560</text>
<rect x="1683" y="92" width="2" height="1" fill="#000" stroke="none" shape-rendering="crispEdges"/>
<text transform="translate(1688.3 95.9) scale(0.930 1)" xml:space="preserve">1.23080</text>
<rect x="1683" y="125" width="2" height="1" fill="#000" stroke="none" shape-rendering="crispEdges"/>
<text transform="translate(1688.3 128.9) scale(0.930 1)" xml:space="preserve">1.22600</text>
<rect x="1683" y="158" width="2" height="1" fill="#000" stroke="none" shape-rendering="crispEdges"/>
<text transform="translate(1688.3 161.9) scale(0.930 1)" xml:space="preserve">1.22110</text>
<rect x="1683" y="191" width="2" height="1" fill="#000" stroke="none" shape-rendering="crispEdges"/>
<text transform="translate(1688.3 194.9) scale(0.930 1)" xml:space="preserve">1.21630</text>
<rect x="1683" y="224" width="2" height="1" fill="#000" stroke="none" shape-rendering="crispEdges"/>
<text transform="translate(1688.3 227.9) scale(0.930 1)" xml:space="preserve">1.21150</text>
<rect x="1683" y="257" width="2" height="1" fill="#000" stroke="none" shape-rendering="crispEdges"/>
<text transform="translate(1688.3 260.9) scale(0.930 1)" xml:space="preserve">1.20670</text>
<rect x="1683" y="290" width="2" height="1" fill="#000" stroke="none" shape-rendering="crispEdges"/>
<text transform="translate(1688.3 293.9) scale(0.930 1)" xml:space="preserve">1.20190</text>
<rect x="1683" y="323" width="2" height="1" fill="#000" stroke="none" shape-rendering="crispEdges"/>
<text transform="translate(1688.3 326.9) scale(0.930 1)" xml:space="preserve">1.19710</text>
<rect x="1683" y="356" width="2" height="1" fill="#000" stroke="none" shape-rendering="crispEdges"/>
<text transform="translate(1688.3 359.9) scale(0.930 1)" xml:space="preserve">1.19220</text>
<rect x="1683" y="389" width="2" height="1" fill="#000" stroke="none" shape-rendering="crispEdges"/>
<text transform="translate(1688.3 392.9) scale(0.930 1)" xml:space="preserve">1.18740</text>
<rect x="1683" y="422" width="2" height="1" fill="#000" stroke="none" shape-rendering="crispEdges"/>
<text transform="translate(1688.3 425.9) scale(0.930 1)" xml:space="preserve">1.18260</text>
<rect x="1683" y="455" width="2" height="1" fill="#000" stroke="none" shape-rendering="crispEdges"/>
<text transform="translate(1688.3 458.9) scale(0.930 1)" xml:space="preserve">1.17780</text>
<rect x="1683" y="488" width="2" height="1" fill="#000" stroke="none" shape-rendering="crispEdges"/>
<text transform="translate(1688.3 491.9) scale(0.930 1)" xml:space="preserve">1.17300</text>
<rect x="1683" y="521" width="2" height="1" fill="#000" stroke="none" shape-rendering="crispEdges"/>
<text transform="translate(1688.3 524.9) scale(0.930 1)" xml:space="preserve">1.16820</text>
<rect x="1683" y="554" width="2" height="1" fill="#000" stroke="none" shape-rendering="crispEdges"/>
<text transform="translate(1688.3 557.9) scale(0.930 1)" xml:space="preserve">1.16340</text>
<rect x="1683" y="587" width="2" height="1" fill="#000" stroke="none" shape-rendering="crispEdges"/>
<text transform="translate(1688.3 590.9) scale(0.930 1)" xml:space="preserve">1.15850</text>
<rect x="1684" y="344" width="41" height="11" fill="#ff0000" stroke="none" shape-rendering="crispEdges"/>
<text transform="translate(1688.3 353.0) scale(0.930 1)" fill="#ffffff" stroke="#ffffff" xml:space="preserve">1.19316</text>
<rect x="1684" y="365" width="41" height="11" fill="#ff4500" stroke="none" shape-rendering="crispEdges"/>
<text transform="translate(1688.3 374.0) scale(0.930 1)" fill="#ffffff" stroke="#ffffff" xml:space="preserve">1.19010</text>
<rect x="1684" y="387" width="41" height="11" fill="#000000" stroke="none" shape-rendering="crispEdges"/>
<text transform="translate(1688.3 396.0) scale(0.930 1)" fill="#ffffff" stroke="#ffffff" xml:space="preserve">1.18688</text>
<rect x="1684" y="395" width="41" height="11" fill="#32cd32" stroke="none" shape-rendering="crispEdges"/>
<text transform="translate(1688.3 404.0) scale(0.930 1)" fill="#ffffff" stroke="#ffffff" xml:space="preserve">1.18573</text>
<rect x="1684" y="413" width="41" height="11" fill="#0000ff" stroke="none" shape-rendering="crispEdges"/>
<text transform="translate(1688.3 422.0) scale(0.930 1)" fill="#ffffff" stroke="#ffffff" xml:space="preserve">1.18311</text>
<rect x="1684" y="432" width="41" height="11" fill="#0000ff" stroke="none" shape-rendering="crispEdges"/>
<text transform="translate(1688.3 441.0) scale(0.930 1)" fill="#ffffff" stroke="#ffffff" xml:space="preserve">1.18034</text>
<rect x="1677.5" y="348.5" width="4" height="4" fill="#fff" stroke="#ff0000" stroke-width="1" shape-rendering="crispEdges"/>
<rect x="1677.5" y="369.5" width="4" height="4" fill="#fff" stroke="#ff4500" stroke-width="1" shape-rendering="crispEdges"/>
<text transform="translate(1685.8 602.5) scale(0.930 1)" xml:space="preserve">0.009301</text>
<text transform="translate(1688.3 686.5) scale(0.930 1)" xml:space="preserve">0.00</text>
<rect x="1683" y="683" width="2" height="1" stroke="none" shape-rendering="crispEdges"/>
<text transform="translate(1685.8 759.3) scale(0.930 1)" xml:space="preserve">-0.008082</text>
<text transform="translate(1685.8 775.5) scale(0.930 1)" xml:space="preserve">100</text>
<text transform="translate(1685.8 804.2) scale(0.930 1)" xml:space="preserve">80</text>
<text transform="translate(1685.8 855.4) scale(0.930 1)" xml:space="preserve">50</text>
<text transform="translate(1685.8 916.5) scale(0.930 1)" xml:space="preserve">15</text>
<text transform="translate(1685.8 935.0) scale(0.930 1)" xml:space="preserve">0</text>
<text transform="translate(10.4 48.8) scale(0.961 1)" xml:space="preserve">EURUSD-,Daily  1.18733 1.19140 1.18601 1.18688</text>
<polygon points="0,48 6,48 3,44" fill="#000" stroke="none"/>
<text transform="translate(0.0 605.0) scale(0.953 1)" xml:space="preserve">MACD(12,26,9) -0.004286 -0.006285</text>
<text transform="translate(0.0 777.0) scale(0.930 1)" xml:space="preserve">RSI(14) 50.2051</text>
<rect x="-5" y="939" width="1" height="3" fill="#000" stroke="none" shape-rendering="crispEdges"/>
<text transform="translate(-6.0 951.2) scale(0.930 1)" xml:space="preserve">9 Sep 2020</text>
<rect x="59" y="939" width="1" height="3" fill="#000" stroke="none" shape-rendering="crispEdges"/>
<text transform="translate(58.0 951.2) scale(0.930 1)" xml:space="preserve">18 Sep 2020</text>
<rect x="123" y="939" width="1" height="3" fill="#000" stroke="none" shape-rendering="crispEdges"/>
<text transform="translate(122.0 951.2) scale(0.930 1)" xml:space="preserve">28 Sep 2020</text>
<rect x="187" y="939" width="1" height="3" fill="#000" stroke="none" shape-rendering="crispEdges"/>
<text transform="translate(186.0 951.2) scale(0.930 1)" xml:space="preserve">7 Oct 2020</text>
<rect x="251" y="939" width="1" height="3" fill="#000" stroke="none" shape-rendering="crispEdges"/>
<text transform="translate(250.0 951.2) scale(0.930 1)" xml:space="preserve">16 Oct 2020</text>
<rect x="315" y="939" width="1" height="3" fill="#000" stroke="none" shape-rendering="crispEdges"/>
<text transform="translate(314.0 951.2) scale(0.930 1)" xml:space="preserve">26 Oct 2020</text>
<rect x="379" y="939" width="1" height="3" fill="#000" stroke="none" shape-rendering="crispEdges"/>
<text transform="translate(378.0 951.2) scale(0.930 1)" xml:space="preserve">4 Nov 2020</text>
<rect x="443" y="939" width="1" height="3" fill="#000" stroke="none" shape-rendering="crispEdges"/>
<text transform="translate(442.0 951.2) scale(0.930 1)" xml:space="preserve">13 Nov 2020</text>
<rect x="507" y="939" width="1" height="3" fill="#000" stroke="none" shape-rendering="crispEdges"/>
<text transform="translate(506.0 951.2) scale(0.930 1)" xml:space="preserve">23 Nov 2020</text>
<rect x="571" y="939" width="1" height="3" fill="#000" stroke="none" shape-rendering="crispEdges"/>
<text transform="translate(570.0 951.2) scale(0.930 1)" xml:space="preserve">2 Dec 2020</text>
<rect x="635" y="939" width="1" height="3" fill="#000" stroke="none" shape-rendering="crispEdges"/>
<text transform="translate(634.0 951.2) scale(0.930 1)" xml:space="preserve">11 Dec 2020</text>
<rect x="699" y="939" width="1" height="3" fill="#000" stroke="none" shape-rendering="crispEdges"/>
<text transform="translate(698.0 951.2) scale(0.930 1)" xml:space="preserve">21 Dec 2020</text>
<rect x="763" y="939" width="1" height="3" fill="#000" stroke="none" shape-rendering="crispEdges"/>
<text transform="translate(762.0 951.2) scale(0.930 1)" xml:space="preserve">31 Dec 2020</text>
<rect x="827" y="939" width="1" height="3" fill="#000" stroke="none" shape-rendering="crispEdges"/>
<text transform="translate(826.0 951.2) scale(0.930 1)" xml:space="preserve">11 Jan 2021</text>
<rect x="891" y="939" width="1" height="3" fill="#000" stroke="none" shape-rendering="crispEdges"/>
<text transform="translate(890.0 951.2) scale(0.930 1)" xml:space="preserve">20 Jan 2021</text>
<rect x="955" y="939" width="1" height="3" fill="#000" stroke="none" shape-rendering="crispEdges"/>
<text transform="translate(954.0 951.2) scale(0.930 1)" xml:space="preserve">29 Jan 2021</text>
<rect x="1019" y="939" width="1" height="3" fill="#000" stroke="none" shape-rendering="crispEdges"/>
<text transform="translate(1018.0 951.2) scale(0.930 1)" xml:space="preserve">8 Feb 2021</text>
<rect x="1083" y="939" width="1" height="3" fill="#000" stroke="none" shape-rendering="crispEdges"/>
<text transform="translate(1082.0 951.2) scale(0.930 1)" xml:space="preserve">17 Feb 2021</text>
<rect x="1147" y="939" width="1" height="3" fill="#000" stroke="none" shape-rendering="crispEdges"/>
<text transform="translate(1146.0 951.2) scale(0.930 1)" xml:space="preserve">26 Feb 2021</text>
<rect x="1211" y="939" width="1" height="3" fill="#000" stroke="none" shape-rendering="crispEdges"/>
<text transform="translate(1210.0 951.2) scale(0.930 1)" xml:space="preserve">8 Mar 2021</text>
<rect x="1275" y="939" width="1" height="3" fill="#000" stroke="none" shape-rendering="crispEdges"/>
<text transform="translate(1274.0 951.2) scale(0.930 1)" xml:space="preserve">17 Mar 2021</text>
<rect x="1339" y="939" width="1" height="3" fill="#000" stroke="none" shape-rendering="crispEdges"/>
<text transform="translate(1338.0 951.2) scale(0.930 1)" xml:space="preserve">26 Mar 2021</text>
<rect x="1403" y="939" width="1" height="3" fill="#000" stroke="none" shape-rendering="crispEdges"/>
<text transform="translate(1402.0 951.2) scale(0.930 1)" xml:space="preserve">6 Apr 2021</text>
</g>
<polygon points="1421,38 1433,38 1427,44" fill="#b8b8b8"/>
<g id="oneclick">
<g shape-rendering="crispEdges">
<rect x="0" y="57" width="49" height="25" fill="url(#gSellT)"/>
<rect x="165" y="57" width="52" height="25" fill="url(#gSellT)"/>
<rect x="0" y="81" width="107" height="40" fill="url(#gSellB)"/>
<rect x="109" y="81" width="108" height="40" fill="url(#gSellB)"/>
<rect x="2" y="80" width="44" height="1" fill="#9a9aff"/><rect x="169" y="80" width="44" height="1" fill="#9a9aff"/>
<rect x="52" y="57" width="111" height="22" fill="#fff"/>
<rect x="52.5" y="57.5" width="110" height="21" fill="#fff" stroke="#c4c4c4"/>
<rect x="54" y="59" width="19" height="18" fill="url(#gBtn)"/><rect x="142" y="59" width="19" height="18" fill="url(#gBtn)"/>
<rect x="73" y="58" width="1" height="20" fill="#c4c4c4"/><rect x="141" y="58" width="1" height="20" fill="#c4c4c4"/>
</g>
<path d="M60 66.5h5l-2.5 3z" fill="#4a62b8"/><path d="M149 69.5h5l-2.5-3z" fill="#4a62b8"/>
<text x="137.5" y="72" text-anchor="end" font-family="'Liberation Sans',sans-serif" font-size="12.5" fill="#000">1.00</text>
<text x="10.4" y="73" font-family="'Liberation Sans',sans-serif" font-size="11.5" fill="#eeeeff" textLength="25.6" lengthAdjust="spacingAndGlyphs">SELL</text>
<text x="178.6" y="73" font-family="'Liberation Sans',sans-serif" font-size="11.5" fill="#eeeeff" textLength="22.7" lengthAdjust="spacingAndGlyphs">BUY</text>
<text x="18.7" y="111.6" font-family="'Liberation Sans',sans-serif" font-size="11.5" font-weight="bold" fill="#fff" textLength="23" lengthAdjust="spacingAndGlyphs">1.18</text>
<text x="46" y="111.6" font-family="'Liberation Sans',sans-serif" font-size="33.5" fill="#fff" textLength="35" lengthAdjust="spacingAndGlyphs">68</text>
<text x="85.4" y="95.7" font-family="'Liberation Sans',sans-serif" font-size="11.5" font-weight="bold" fill="#fff">8</text>
<text x="128.8" y="111.6" font-family="'Liberation Sans',sans-serif" font-size="11.5" font-weight="bold" fill="#fff" textLength="23" lengthAdjust="spacingAndGlyphs">1.18</text>
<text x="157" y="111.6" font-family="'Liberation Sans',sans-serif" font-size="33.5" fill="#fff" textLength="35" lengthAdjust="spacingAndGlyphs">70</text>
<text x="196.4" y="95.7" font-family="'Liberation Sans',sans-serif" font-size="11.5" font-weight="bold" fill="#fff">5</text>
</g>
</svg>
</body></html>
